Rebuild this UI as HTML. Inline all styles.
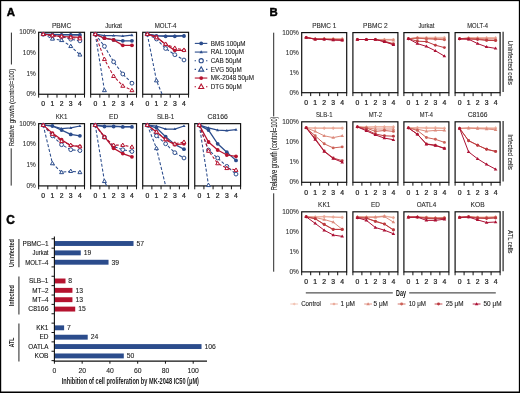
<!DOCTYPE html>
<html><head><meta charset="utf-8"><style>
html,body{margin:0;padding:0;background:#fff;}
svg{display:block;font-family:"Liberation Sans", sans-serif;will-change:transform;}
</style></head><body>
<svg width="520" height="393" viewBox="0 0 520 393">
<rect x="0" y="0" width="520" height="393" fill="#fff"/>
<rect x="0" y="0" width="520" height="1.15" fill="#000" stroke="none" stroke-width="1"/>
<rect x="0" y="0" width="1.2" height="393" fill="#000" stroke="none" stroke-width="1"/>
<rect x="518.85" y="0" width="1.15" height="393" fill="#000" stroke="none" stroke-width="1"/>
<rect x="0" y="391.5" width="520" height="1.5" fill="#000" stroke="none" stroke-width="1"/>
<text x="6.8" y="16.3" font-size="11.4" text-anchor="start" fill="#000" font-weight="bold" stroke="#000" stroke-width="0.45">A</text>
<text x="269.4" y="16.4" font-size="11.4" text-anchor="start" fill="#000" font-weight="bold" stroke="#000" stroke-width="0.45">B</text>
<text x="6.3" y="224.2" font-size="11.9" text-anchor="start" fill="#000" font-weight="bold" stroke="#000" stroke-width="0.45">C</text>
<rect x="38.65" y="32.3" width="45.85" height="61.95" fill="none" stroke="#111" stroke-width="1.2"/>
<line x1="38.65" y1="94.25" x2="38.65" y2="97.65" stroke="#111" stroke-width="1"/>
<line x1="47.82" y1="94.25" x2="47.82" y2="97.65" stroke="#111" stroke-width="1"/>
<line x1="56.99" y1="94.25" x2="56.99" y2="97.65" stroke="#111" stroke-width="1"/>
<line x1="66.16" y1="94.25" x2="66.16" y2="97.65" stroke="#111" stroke-width="1"/>
<line x1="75.33" y1="94.25" x2="75.33" y2="97.65" stroke="#111" stroke-width="1"/>
<line x1="84.5" y1="94.25" x2="84.5" y2="97.65" stroke="#111" stroke-width="1"/>
<text x="43.23" y="105.95" font-size="6.8" text-anchor="middle" fill="#222" stroke="#222" stroke-width="0.22">0</text>
<text x="52.41" y="105.95" font-size="6.8" text-anchor="middle" fill="#222" stroke="#222" stroke-width="0.22">1</text>
<text x="61.58" y="105.95" font-size="6.8" text-anchor="middle" fill="#222" stroke="#222" stroke-width="0.22">2</text>
<text x="70.75" y="105.95" font-size="6.8" text-anchor="middle" fill="#222" stroke="#222" stroke-width="0.22">3</text>
<text x="79.91" y="105.95" font-size="6.8" text-anchor="middle" fill="#222" stroke="#222" stroke-width="0.22">4</text>
<text x="61.58" y="27.7" font-size="6.9" text-anchor="middle" fill="#2a2a2a" textLength="19.3" lengthAdjust="spacingAndGlyphs" stroke="#2a2a2a" stroke-width="0.1">PBMC</text>
<text x="35.8" y="34.2" font-size="6.5" text-anchor="end" fill="#333" stroke="#333" stroke-width="0.1">100%</text>
<text x="35.8" y="54.9" font-size="6.5" text-anchor="end" fill="#333" stroke="#333" stroke-width="0.1">10%</text>
<text x="35.8" y="75.5" font-size="6.5" text-anchor="end" fill="#333" stroke="#333" stroke-width="0.1">1%</text>
<text x="35.8" y="96.15" font-size="6.5" text-anchor="end" fill="#333" stroke="#333" stroke-width="0.1">0%</text>
<polyline points="43.23,34.2 52.41,34.6 61.58,34.8 70.75,35 79.91,35" fill="none" stroke="#2b4c8c" stroke-width="1.25"/>
<circle cx="43.23" cy="34.2" r="1.9" fill="#2b4c8c"/>
<circle cx="52.41" cy="34.6" r="1.9" fill="#2b4c8c"/>
<circle cx="61.58" cy="34.8" r="1.9" fill="#2b4c8c"/>
<circle cx="70.75" cy="35" r="1.9" fill="#2b4c8c"/>
<circle cx="79.91" cy="35" r="1.9" fill="#2b4c8c"/>
<polyline points="43.23,34.2 52.41,34.4 61.58,34.5 70.75,34.5 79.91,34.5" fill="none" stroke="#2b4c8c" stroke-width="1.25"/>
<polygon points="43.23,32.58 41.66,35.28 44.81,35.28" fill="#2b4c8c"/>
<polygon points="52.41,32.78 50.83,35.48 53.98,35.48" fill="#2b4c8c"/>
<polygon points="61.58,32.88 60,35.58 63.15,35.58" fill="#2b4c8c"/>
<polygon points="70.75,32.88 69.17,35.58 72.32,35.58" fill="#2b4c8c"/>
<polygon points="79.91,32.88 78.34,35.58 81.49,35.58" fill="#2b4c8c"/>
<polyline points="43.23,34.2 52.41,35.6 61.58,36.6 70.75,39.2 79.91,40.9" fill="none" stroke="#2b4c8c" stroke-width="1.05" stroke-dasharray="3,1.9"/>
<circle cx="43.23" cy="34.2" r="1.9" fill="#fff" stroke="#2b4c8c" stroke-width="1"/>
<circle cx="52.41" cy="35.6" r="1.9" fill="#fff" stroke="#2b4c8c" stroke-width="1"/>
<circle cx="61.58" cy="36.6" r="1.9" fill="#fff" stroke="#2b4c8c" stroke-width="1"/>
<circle cx="70.75" cy="39.2" r="1.9" fill="#fff" stroke="#2b4c8c" stroke-width="1"/>
<circle cx="79.91" cy="40.9" r="1.9" fill="#fff" stroke="#2b4c8c" stroke-width="1"/>
<polyline points="43.23,34.2 52.41,38.8 61.58,40.2 70.75,46.2 79.91,54.7" fill="none" stroke="#2b4c8c" stroke-width="1.05" stroke-dasharray="3,1.9"/>
<polygon points="43.23,32.15 41.26,35.57 45.21,35.57" fill="#fff" stroke="#2b4c8c" stroke-width="1"/>
<polygon points="52.41,36.75 50.43,40.17 54.38,40.17" fill="#fff" stroke="#2b4c8c" stroke-width="1"/>
<polygon points="61.58,38.15 59.6,41.57 63.55,41.57" fill="#fff" stroke="#2b4c8c" stroke-width="1"/>
<polygon points="70.75,44.15 68.77,47.57 72.73,47.57" fill="#fff" stroke="#2b4c8c" stroke-width="1"/>
<polygon points="79.91,52.65 77.93,56.07 81.89,56.07" fill="#fff" stroke="#2b4c8c" stroke-width="1"/>
<polyline points="43.23,34.2 52.41,35.5 61.58,36.5 70.75,36.9 79.91,37.4" fill="none" stroke="#b5132f" stroke-width="1.25"/>
<circle cx="43.23" cy="34.2" r="1.9" fill="#b5132f"/>
<circle cx="52.41" cy="35.5" r="1.9" fill="#b5132f"/>
<circle cx="61.58" cy="36.5" r="1.9" fill="#b5132f"/>
<circle cx="70.75" cy="36.9" r="1.9" fill="#b5132f"/>
<circle cx="79.91" cy="37.4" r="1.9" fill="#b5132f"/>
<polyline points="43.23,34.2 52.41,35.5 61.58,36.5 70.75,37.5 79.91,38.5" fill="none" stroke="#b5132f" stroke-width="1.05" stroke-dasharray="3,1.9"/>
<polygon points="43.23,32.15 41.26,35.57 45.21,35.57" fill="#fff" stroke="#b5132f" stroke-width="1"/>
<polygon points="52.41,33.45 50.43,36.87 54.38,36.87" fill="#fff" stroke="#b5132f" stroke-width="1"/>
<polygon points="61.58,34.45 59.6,37.87 63.55,37.87" fill="#fff" stroke="#b5132f" stroke-width="1"/>
<polygon points="70.75,35.45 68.77,38.87 72.73,38.87" fill="#fff" stroke="#b5132f" stroke-width="1"/>
<polygon points="79.91,36.45 77.93,39.87 81.89,39.87" fill="#fff" stroke="#b5132f" stroke-width="1"/>
<rect x="90.68" y="32.3" width="45.85" height="61.95" fill="none" stroke="#111" stroke-width="1.2"/>
<line x1="90.68" y1="94.25" x2="90.68" y2="97.65" stroke="#111" stroke-width="1"/>
<line x1="99.85" y1="94.25" x2="99.85" y2="97.65" stroke="#111" stroke-width="1"/>
<line x1="109.02" y1="94.25" x2="109.02" y2="97.65" stroke="#111" stroke-width="1"/>
<line x1="118.19" y1="94.25" x2="118.19" y2="97.65" stroke="#111" stroke-width="1"/>
<line x1="127.36" y1="94.25" x2="127.36" y2="97.65" stroke="#111" stroke-width="1"/>
<line x1="136.53" y1="94.25" x2="136.53" y2="97.65" stroke="#111" stroke-width="1"/>
<text x="95.27" y="105.95" font-size="6.8" text-anchor="middle" fill="#222" stroke="#222" stroke-width="0.22">0</text>
<text x="104.44" y="105.95" font-size="6.8" text-anchor="middle" fill="#222" stroke="#222" stroke-width="0.22">1</text>
<text x="113.61" y="105.95" font-size="6.8" text-anchor="middle" fill="#222" stroke="#222" stroke-width="0.22">2</text>
<text x="122.78" y="105.95" font-size="6.8" text-anchor="middle" fill="#222" stroke="#222" stroke-width="0.22">3</text>
<text x="131.94" y="105.95" font-size="6.8" text-anchor="middle" fill="#222" stroke="#222" stroke-width="0.22">4</text>
<text x="113.61" y="27.7" font-size="6.9" text-anchor="middle" fill="#2a2a2a" textLength="16.9" lengthAdjust="spacingAndGlyphs" stroke="#2a2a2a" stroke-width="0.1">Jurkat</text>
<polyline points="95.27,34.2 104.44,38.2 113.61,39.9 122.78,40.8 131.94,40.8" fill="none" stroke="#2b4c8c" stroke-width="1.25"/>
<circle cx="95.27" cy="34.2" r="1.9" fill="#2b4c8c"/>
<circle cx="104.44" cy="38.2" r="1.9" fill="#2b4c8c"/>
<circle cx="113.61" cy="39.9" r="1.9" fill="#2b4c8c"/>
<circle cx="122.78" cy="40.8" r="1.9" fill="#2b4c8c"/>
<circle cx="131.94" cy="40.8" r="1.9" fill="#2b4c8c"/>
<polyline points="95.27,34.2 104.44,35.5 113.61,35.5 122.78,36 131.94,35.1" fill="none" stroke="#2b4c8c" stroke-width="1.25"/>
<polygon points="95.27,32.58 93.69,35.28 96.84,35.28" fill="#2b4c8c"/>
<polygon points="104.44,33.88 102.86,36.58 106.01,36.58" fill="#2b4c8c"/>
<polygon points="113.61,33.88 112.03,36.58 115.18,36.58" fill="#2b4c8c"/>
<polygon points="122.78,34.38 121.2,37.08 124.35,37.08" fill="#2b4c8c"/>
<polygon points="131.94,33.48 130.37,36.18 133.52,36.18" fill="#2b4c8c"/>
<polyline points="95.27,34.2 104.44,46.3 113.61,61.8 122.78,74 131.94,83.2" fill="none" stroke="#2b4c8c" stroke-width="1.05" stroke-dasharray="3,1.9"/>
<circle cx="95.27" cy="34.2" r="1.9" fill="#fff" stroke="#2b4c8c" stroke-width="1"/>
<circle cx="104.44" cy="46.3" r="1.9" fill="#fff" stroke="#2b4c8c" stroke-width="1"/>
<circle cx="113.61" cy="61.8" r="1.9" fill="#fff" stroke="#2b4c8c" stroke-width="1"/>
<circle cx="122.78" cy="74" r="1.9" fill="#fff" stroke="#2b4c8c" stroke-width="1"/>
<circle cx="131.94" cy="83.2" r="1.9" fill="#fff" stroke="#2b4c8c" stroke-width="1"/>
<polyline points="95.27,34.2 104.44,90.3" fill="none" stroke="#2b4c8c" stroke-width="1.05" stroke-dasharray="3,1.9"/>
<polygon points="95.27,32.15 93.28,35.57 97.25,35.57" fill="#fff" stroke="#2b4c8c" stroke-width="1"/>
<polygon points="104.44,88.25 102.45,91.67 106.42,91.67" fill="#fff" stroke="#2b4c8c" stroke-width="1"/>
<polyline points="95.27,34.2 104.44,38.2 113.61,39.9 122.78,45.3 131.94,45.3" fill="none" stroke="#b5132f" stroke-width="1.25"/>
<circle cx="95.27" cy="34.2" r="1.9" fill="#b5132f"/>
<circle cx="104.44" cy="38.2" r="1.9" fill="#b5132f"/>
<circle cx="113.61" cy="39.9" r="1.9" fill="#b5132f"/>
<circle cx="122.78" cy="45.3" r="1.9" fill="#b5132f"/>
<circle cx="131.94" cy="45.3" r="1.9" fill="#b5132f"/>
<polyline points="95.27,34.2 104.44,59.2 113.61,76.1 122.78,85.9 131.94,90.3" fill="none" stroke="#b5132f" stroke-width="1.05" stroke-dasharray="3,1.9"/>
<polygon points="95.27,32.15 93.28,35.57 97.25,35.57" fill="#fff" stroke="#b5132f" stroke-width="1"/>
<polygon points="104.44,57.15 102.45,60.57 106.42,60.57" fill="#fff" stroke="#b5132f" stroke-width="1"/>
<polygon points="113.61,74.05 111.62,77.47 115.59,77.47" fill="#fff" stroke="#b5132f" stroke-width="1"/>
<polygon points="122.78,83.85 120.8,87.27 124.76,87.27" fill="#fff" stroke="#b5132f" stroke-width="1"/>
<polygon points="131.94,88.25 129.97,91.67 133.92,91.67" fill="#fff" stroke="#b5132f" stroke-width="1"/>
<rect x="142.71" y="32.3" width="45.85" height="61.95" fill="none" stroke="#111" stroke-width="1.2"/>
<line x1="142.71" y1="94.25" x2="142.71" y2="97.65" stroke="#111" stroke-width="1"/>
<line x1="151.88" y1="94.25" x2="151.88" y2="97.65" stroke="#111" stroke-width="1"/>
<line x1="161.05" y1="94.25" x2="161.05" y2="97.65" stroke="#111" stroke-width="1"/>
<line x1="170.22" y1="94.25" x2="170.22" y2="97.65" stroke="#111" stroke-width="1"/>
<line x1="179.39" y1="94.25" x2="179.39" y2="97.65" stroke="#111" stroke-width="1"/>
<line x1="188.56" y1="94.25" x2="188.56" y2="97.65" stroke="#111" stroke-width="1"/>
<text x="147.3" y="105.95" font-size="6.8" text-anchor="middle" fill="#222" stroke="#222" stroke-width="0.22">0</text>
<text x="156.47" y="105.95" font-size="6.8" text-anchor="middle" fill="#222" stroke="#222" stroke-width="0.22">1</text>
<text x="165.64" y="105.95" font-size="6.8" text-anchor="middle" fill="#222" stroke="#222" stroke-width="0.22">2</text>
<text x="174.81" y="105.95" font-size="6.8" text-anchor="middle" fill="#222" stroke="#222" stroke-width="0.22">3</text>
<text x="183.98" y="105.95" font-size="6.8" text-anchor="middle" fill="#222" stroke="#222" stroke-width="0.22">4</text>
<text x="165.64" y="27.7" font-size="6.9" text-anchor="middle" fill="#2a2a2a" textLength="21.8" lengthAdjust="spacingAndGlyphs" stroke="#2a2a2a" stroke-width="0.1">MOLT-4</text>
<polyline points="147.3,34.2 156.47,36 165.64,36.3 174.81,36.3 183.98,36" fill="none" stroke="#2b4c8c" stroke-width="1.25"/>
<circle cx="147.3" cy="34.2" r="1.9" fill="#2b4c8c"/>
<circle cx="156.47" cy="36" r="1.9" fill="#2b4c8c"/>
<circle cx="165.64" cy="36.3" r="1.9" fill="#2b4c8c"/>
<circle cx="174.81" cy="36.3" r="1.9" fill="#2b4c8c"/>
<circle cx="183.98" cy="36" r="1.9" fill="#2b4c8c"/>
<polyline points="147.3,34.2 156.47,35.5 165.64,35.8 174.81,35.8 183.98,35.5" fill="none" stroke="#2b4c8c" stroke-width="1.25"/>
<polygon points="147.3,32.58 145.72,35.28 148.87,35.28" fill="#2b4c8c"/>
<polygon points="156.47,33.88 154.89,36.58 158.04,36.58" fill="#2b4c8c"/>
<polygon points="165.64,34.18 164.06,36.88 167.21,36.88" fill="#2b4c8c"/>
<polygon points="174.81,34.18 173.23,36.88 176.38,36.88" fill="#2b4c8c"/>
<polygon points="183.98,33.88 182.4,36.58 185.55,36.58" fill="#2b4c8c"/>
<polyline points="147.3,34.2 156.47,39 165.64,48.5 174.81,54.7 183.98,60" fill="none" stroke="#2b4c8c" stroke-width="1.05" stroke-dasharray="3,1.9"/>
<circle cx="147.3" cy="34.2" r="1.9" fill="#fff" stroke="#2b4c8c" stroke-width="1"/>
<circle cx="156.47" cy="39" r="1.9" fill="#fff" stroke="#2b4c8c" stroke-width="1"/>
<circle cx="165.64" cy="48.5" r="1.9" fill="#fff" stroke="#2b4c8c" stroke-width="1"/>
<circle cx="174.81" cy="54.7" r="1.9" fill="#fff" stroke="#2b4c8c" stroke-width="1"/>
<circle cx="183.98" cy="60" r="1.9" fill="#fff" stroke="#2b4c8c" stroke-width="1"/>
<polyline points="147.3,34.2 156.47,80.5 162.15,94.4" fill="none" stroke="#2b4c8c" stroke-width="1.05" stroke-dasharray="3,1.9"/>
<polygon points="147.3,32.15 145.32,35.57 149.28,35.57" fill="#fff" stroke="#2b4c8c" stroke-width="1"/>
<polygon points="156.47,78.45 154.49,81.87 158.44,81.87" fill="#fff" stroke="#2b4c8c" stroke-width="1"/>
<polyline points="147.3,34.2 156.47,36.9 165.64,44.4 174.81,50.3 183.98,50.3" fill="none" stroke="#b5132f" stroke-width="1.25"/>
<circle cx="147.3" cy="34.2" r="1.9" fill="#b5132f"/>
<circle cx="156.47" cy="36.9" r="1.9" fill="#b5132f"/>
<circle cx="165.64" cy="44.4" r="1.9" fill="#b5132f"/>
<circle cx="174.81" cy="50.3" r="1.9" fill="#b5132f"/>
<circle cx="183.98" cy="50.3" r="1.9" fill="#b5132f"/>
<polyline points="147.3,34.2 156.47,37.5 165.64,44 174.81,48 183.98,50" fill="none" stroke="#b5132f" stroke-width="1.05" stroke-dasharray="3,1.9"/>
<polygon points="147.3,32.15 145.32,35.57 149.28,35.57" fill="#fff" stroke="#b5132f" stroke-width="1"/>
<polygon points="156.47,35.45 154.49,38.87 158.44,38.87" fill="#fff" stroke="#b5132f" stroke-width="1"/>
<polygon points="165.64,41.95 163.66,45.37 167.62,45.37" fill="#fff" stroke="#b5132f" stroke-width="1"/>
<polygon points="174.81,45.95 172.83,49.37 176.78,49.37" fill="#fff" stroke="#b5132f" stroke-width="1"/>
<polygon points="183.98,47.95 182,51.37 185.96,51.37" fill="#fff" stroke="#b5132f" stroke-width="1"/>
<rect x="38.65" y="123.65" width="45.85" height="62.25" fill="none" stroke="#111" stroke-width="1.2"/>
<line x1="38.65" y1="185.9" x2="38.65" y2="189.3" stroke="#111" stroke-width="1"/>
<line x1="47.82" y1="185.9" x2="47.82" y2="189.3" stroke="#111" stroke-width="1"/>
<line x1="56.99" y1="185.9" x2="56.99" y2="189.3" stroke="#111" stroke-width="1"/>
<line x1="66.16" y1="185.9" x2="66.16" y2="189.3" stroke="#111" stroke-width="1"/>
<line x1="75.33" y1="185.9" x2="75.33" y2="189.3" stroke="#111" stroke-width="1"/>
<line x1="84.5" y1="185.9" x2="84.5" y2="189.3" stroke="#111" stroke-width="1"/>
<text x="43.23" y="197.6" font-size="6.8" text-anchor="middle" fill="#222" stroke="#222" stroke-width="0.22">0</text>
<text x="52.41" y="197.6" font-size="6.8" text-anchor="middle" fill="#222" stroke="#222" stroke-width="0.22">1</text>
<text x="61.58" y="197.6" font-size="6.8" text-anchor="middle" fill="#222" stroke="#222" stroke-width="0.22">2</text>
<text x="70.75" y="197.6" font-size="6.8" text-anchor="middle" fill="#222" stroke="#222" stroke-width="0.22">3</text>
<text x="79.91" y="197.6" font-size="6.8" text-anchor="middle" fill="#222" stroke="#222" stroke-width="0.22">4</text>
<text x="61.58" y="119.05" font-size="6.9" text-anchor="middle" fill="#2a2a2a" textLength="11.7" lengthAdjust="spacingAndGlyphs" stroke="#2a2a2a" stroke-width="0.1">KK1</text>
<text x="35.8" y="125.55" font-size="6.5" text-anchor="end" fill="#333" stroke="#333" stroke-width="0.1">100%</text>
<text x="35.8" y="146.25" font-size="6.5" text-anchor="end" fill="#333" stroke="#333" stroke-width="0.1">10%</text>
<text x="35.8" y="166.85" font-size="6.5" text-anchor="end" fill="#333" stroke="#333" stroke-width="0.1">1%</text>
<text x="35.8" y="187.8" font-size="6.5" text-anchor="end" fill="#333" stroke="#333" stroke-width="0.1">0%</text>
<polyline points="43.23,125.1 52.41,126 61.58,130.1 70.75,134.4 79.91,135.8" fill="none" stroke="#2b4c8c" stroke-width="1.25"/>
<circle cx="43.23" cy="125.1" r="1.9" fill="#2b4c8c"/>
<circle cx="52.41" cy="126" r="1.9" fill="#2b4c8c"/>
<circle cx="61.58" cy="130.1" r="1.9" fill="#2b4c8c"/>
<circle cx="70.75" cy="134.4" r="1.9" fill="#2b4c8c"/>
<circle cx="79.91" cy="135.8" r="1.9" fill="#2b4c8c"/>
<polyline points="43.23,125.1 52.41,126 61.58,128.7 70.75,127.8 79.91,126" fill="none" stroke="#2b4c8c" stroke-width="1.25"/>
<polygon points="43.23,123.48 41.66,126.18 44.81,126.18" fill="#2b4c8c"/>
<polygon points="52.41,124.38 50.83,127.08 53.98,127.08" fill="#2b4c8c"/>
<polygon points="61.58,127.08 60,129.78 63.15,129.78" fill="#2b4c8c"/>
<polygon points="70.75,126.18 69.17,128.88 72.32,128.88" fill="#2b4c8c"/>
<polygon points="79.91,124.38 78.34,127.08 81.49,127.08" fill="#2b4c8c"/>
<polyline points="43.23,125.1 52.41,135.8 61.58,144.7 70.75,149.7 79.91,150.6" fill="none" stroke="#2b4c8c" stroke-width="1.05" stroke-dasharray="3,1.9"/>
<circle cx="43.23" cy="125.1" r="1.9" fill="#fff" stroke="#2b4c8c" stroke-width="1"/>
<circle cx="52.41" cy="135.8" r="1.9" fill="#fff" stroke="#2b4c8c" stroke-width="1"/>
<circle cx="61.58" cy="144.7" r="1.9" fill="#fff" stroke="#2b4c8c" stroke-width="1"/>
<circle cx="70.75" cy="149.7" r="1.9" fill="#fff" stroke="#2b4c8c" stroke-width="1"/>
<circle cx="79.91" cy="150.6" r="1.9" fill="#fff" stroke="#2b4c8c" stroke-width="1"/>
<polyline points="43.23,125.1 52.41,163.4 61.58,172.3 70.75,171.1 79.91,172.3" fill="none" stroke="#2b4c8c" stroke-width="1.05" stroke-dasharray="3,1.9"/>
<polygon points="43.23,123.05 41.26,126.47 45.21,126.47" fill="#fff" stroke="#2b4c8c" stroke-width="1"/>
<polygon points="52.41,161.35 50.43,164.77 54.38,164.77" fill="#fff" stroke="#2b4c8c" stroke-width="1"/>
<polygon points="61.58,170.25 59.6,173.67 63.55,173.67" fill="#fff" stroke="#2b4c8c" stroke-width="1"/>
<polygon points="70.75,169.05 68.77,172.47 72.73,172.47" fill="#fff" stroke="#2b4c8c" stroke-width="1"/>
<polygon points="79.91,170.25 77.93,173.67 81.89,173.67" fill="#fff" stroke="#2b4c8c" stroke-width="1"/>
<polyline points="43.23,125.1 52.41,133.1 61.58,139.7 70.75,145.6 79.91,146.5" fill="none" stroke="#b5132f" stroke-width="1.25"/>
<circle cx="43.23" cy="125.1" r="1.9" fill="#b5132f"/>
<circle cx="52.41" cy="133.1" r="1.9" fill="#b5132f"/>
<circle cx="61.58" cy="139.7" r="1.9" fill="#b5132f"/>
<circle cx="70.75" cy="145.6" r="1.9" fill="#b5132f"/>
<circle cx="79.91" cy="146.5" r="1.9" fill="#b5132f"/>
<polyline points="43.23,125.1 52.41,134 61.58,141.2 70.75,145.1 79.91,146.5" fill="none" stroke="#b5132f" stroke-width="1.05" stroke-dasharray="3,1.9"/>
<polygon points="43.23,123.05 41.26,126.47 45.21,126.47" fill="#fff" stroke="#b5132f" stroke-width="1"/>
<polygon points="52.41,131.95 50.43,135.37 54.38,135.37" fill="#fff" stroke="#b5132f" stroke-width="1"/>
<polygon points="61.58,139.15 59.6,142.57 63.55,142.57" fill="#fff" stroke="#b5132f" stroke-width="1"/>
<polygon points="70.75,143.05 68.77,146.47 72.73,146.47" fill="#fff" stroke="#b5132f" stroke-width="1"/>
<polygon points="79.91,144.45 77.93,147.87 81.89,147.87" fill="#fff" stroke="#b5132f" stroke-width="1"/>
<rect x="90.68" y="123.65" width="45.85" height="62.25" fill="none" stroke="#111" stroke-width="1.2"/>
<line x1="90.68" y1="185.9" x2="90.68" y2="189.3" stroke="#111" stroke-width="1"/>
<line x1="99.85" y1="185.9" x2="99.85" y2="189.3" stroke="#111" stroke-width="1"/>
<line x1="109.02" y1="185.9" x2="109.02" y2="189.3" stroke="#111" stroke-width="1"/>
<line x1="118.19" y1="185.9" x2="118.19" y2="189.3" stroke="#111" stroke-width="1"/>
<line x1="127.36" y1="185.9" x2="127.36" y2="189.3" stroke="#111" stroke-width="1"/>
<line x1="136.53" y1="185.9" x2="136.53" y2="189.3" stroke="#111" stroke-width="1"/>
<text x="95.27" y="197.6" font-size="6.8" text-anchor="middle" fill="#222" stroke="#222" stroke-width="0.22">0</text>
<text x="104.44" y="197.6" font-size="6.8" text-anchor="middle" fill="#222" stroke="#222" stroke-width="0.22">1</text>
<text x="113.61" y="197.6" font-size="6.8" text-anchor="middle" fill="#222" stroke="#222" stroke-width="0.22">2</text>
<text x="122.78" y="197.6" font-size="6.8" text-anchor="middle" fill="#222" stroke="#222" stroke-width="0.22">3</text>
<text x="131.94" y="197.6" font-size="6.8" text-anchor="middle" fill="#222" stroke="#222" stroke-width="0.22">4</text>
<text x="113.61" y="119.05" font-size="6.9" text-anchor="middle" fill="#2a2a2a" textLength="9.3" lengthAdjust="spacingAndGlyphs" stroke="#2a2a2a" stroke-width="0.1">ED</text>
<polyline points="95.27,125.1 104.44,126.5 113.61,126.5 122.78,126.9 131.94,126.9" fill="none" stroke="#2b4c8c" stroke-width="1.25"/>
<circle cx="95.27" cy="125.1" r="1.9" fill="#2b4c8c"/>
<circle cx="104.44" cy="126.5" r="1.9" fill="#2b4c8c"/>
<circle cx="113.61" cy="126.5" r="1.9" fill="#2b4c8c"/>
<circle cx="122.78" cy="126.9" r="1.9" fill="#2b4c8c"/>
<circle cx="131.94" cy="126.9" r="1.9" fill="#2b4c8c"/>
<polyline points="95.27,125.1 104.44,126.2 113.61,126.2 122.78,126.5 131.94,126.5" fill="none" stroke="#2b4c8c" stroke-width="1.25"/>
<polygon points="95.27,123.48 93.69,126.18 96.84,126.18" fill="#2b4c8c"/>
<polygon points="104.44,124.58 102.86,127.28 106.01,127.28" fill="#2b4c8c"/>
<polygon points="113.61,124.58 112.03,127.28 115.18,127.28" fill="#2b4c8c"/>
<polygon points="122.78,124.88 121.2,127.58 124.35,127.58" fill="#2b4c8c"/>
<polygon points="131.94,124.88 130.37,127.58 133.52,127.58" fill="#2b4c8c"/>
<polyline points="95.27,125.1 104.44,137.2 113.61,146.5 122.78,149.7 131.94,151.5" fill="none" stroke="#2b4c8c" stroke-width="1.05" stroke-dasharray="3,1.9"/>
<circle cx="95.27" cy="125.1" r="1.9" fill="#fff" stroke="#2b4c8c" stroke-width="1"/>
<circle cx="104.44" cy="137.2" r="1.9" fill="#fff" stroke="#2b4c8c" stroke-width="1"/>
<circle cx="113.61" cy="146.5" r="1.9" fill="#fff" stroke="#2b4c8c" stroke-width="1"/>
<circle cx="122.78" cy="149.7" r="1.9" fill="#fff" stroke="#2b4c8c" stroke-width="1"/>
<circle cx="131.94" cy="151.5" r="1.9" fill="#fff" stroke="#2b4c8c" stroke-width="1"/>
<polyline points="95.27,125.1 104.44,181.2 106.73,185.9" fill="none" stroke="#2b4c8c" stroke-width="1.05" stroke-dasharray="3,1.9"/>
<polygon points="95.27,123.05 93.28,126.47 97.25,126.47" fill="#fff" stroke="#2b4c8c" stroke-width="1"/>
<polygon points="104.44,179.15 102.45,182.57 106.42,182.57" fill="#fff" stroke="#2b4c8c" stroke-width="1"/>
<polyline points="95.27,125.1 104.44,136.7 113.61,148.3 122.78,153.6 131.94,156.8" fill="none" stroke="#b5132f" stroke-width="1.25"/>
<circle cx="95.27" cy="125.1" r="1.9" fill="#b5132f"/>
<circle cx="104.44" cy="136.7" r="1.9" fill="#b5132f"/>
<circle cx="113.61" cy="148.3" r="1.9" fill="#b5132f"/>
<circle cx="122.78" cy="153.6" r="1.9" fill="#b5132f"/>
<circle cx="131.94" cy="156.8" r="1.9" fill="#b5132f"/>
<polyline points="95.27,125.1 104.44,137.2 113.61,145.1 122.78,145.1 131.94,146.9" fill="none" stroke="#b5132f" stroke-width="1.05" stroke-dasharray="3,1.9"/>
<polygon points="95.27,123.05 93.28,126.47 97.25,126.47" fill="#fff" stroke="#b5132f" stroke-width="1"/>
<polygon points="104.44,135.15 102.45,138.57 106.42,138.57" fill="#fff" stroke="#b5132f" stroke-width="1"/>
<polygon points="113.61,143.05 111.62,146.47 115.59,146.47" fill="#fff" stroke="#b5132f" stroke-width="1"/>
<polygon points="122.78,143.05 120.8,146.47 124.76,146.47" fill="#fff" stroke="#b5132f" stroke-width="1"/>
<polygon points="131.94,144.85 129.97,148.27 133.92,148.27" fill="#fff" stroke="#b5132f" stroke-width="1"/>
<rect x="142.71" y="123.65" width="45.85" height="62.25" fill="none" stroke="#111" stroke-width="1.2"/>
<line x1="142.71" y1="185.9" x2="142.71" y2="189.3" stroke="#111" stroke-width="1"/>
<line x1="151.88" y1="185.9" x2="151.88" y2="189.3" stroke="#111" stroke-width="1"/>
<line x1="161.05" y1="185.9" x2="161.05" y2="189.3" stroke="#111" stroke-width="1"/>
<line x1="170.22" y1="185.9" x2="170.22" y2="189.3" stroke="#111" stroke-width="1"/>
<line x1="179.39" y1="185.9" x2="179.39" y2="189.3" stroke="#111" stroke-width="1"/>
<line x1="188.56" y1="185.9" x2="188.56" y2="189.3" stroke="#111" stroke-width="1"/>
<text x="147.3" y="197.6" font-size="6.8" text-anchor="middle" fill="#222" stroke="#222" stroke-width="0.22">0</text>
<text x="156.47" y="197.6" font-size="6.8" text-anchor="middle" fill="#222" stroke="#222" stroke-width="0.22">1</text>
<text x="165.64" y="197.6" font-size="6.8" text-anchor="middle" fill="#222" stroke="#222" stroke-width="0.22">2</text>
<text x="174.81" y="197.6" font-size="6.8" text-anchor="middle" fill="#222" stroke="#222" stroke-width="0.22">3</text>
<text x="183.98" y="197.6" font-size="6.8" text-anchor="middle" fill="#222" stroke="#222" stroke-width="0.22">4</text>
<text x="165.64" y="119.05" font-size="6.9" text-anchor="middle" fill="#2a2a2a" textLength="17.4" lengthAdjust="spacingAndGlyphs" stroke="#2a2a2a" stroke-width="0.1">SLB-1</text>
<polyline points="147.3,125.1 156.47,127.8 165.64,136.7 174.81,144.4 183.98,149.2" fill="none" stroke="#2b4c8c" stroke-width="1.25"/>
<circle cx="147.3" cy="125.1" r="1.9" fill="#2b4c8c"/>
<circle cx="156.47" cy="127.8" r="1.9" fill="#2b4c8c"/>
<circle cx="165.64" cy="136.7" r="1.9" fill="#2b4c8c"/>
<circle cx="174.81" cy="144.4" r="1.9" fill="#2b4c8c"/>
<circle cx="183.98" cy="149.2" r="1.9" fill="#2b4c8c"/>
<polyline points="147.3,125.1 156.47,126 165.64,129 174.81,129 183.98,126" fill="none" stroke="#2b4c8c" stroke-width="1.25"/>
<polygon points="147.3,123.48 145.72,126.18 148.87,126.18" fill="#2b4c8c"/>
<polygon points="156.47,124.38 154.89,127.08 158.04,127.08" fill="#2b4c8c"/>
<polygon points="165.64,127.38 164.06,130.08 167.21,130.08" fill="#2b4c8c"/>
<polygon points="174.81,127.38 173.23,130.08 176.38,130.08" fill="#2b4c8c"/>
<polygon points="183.98,124.38 182.4,127.08 185.55,127.08" fill="#2b4c8c"/>
<polyline points="147.3,125.1 156.47,135.8 165.64,143.8 174.81,152.7 183.98,158" fill="none" stroke="#2b4c8c" stroke-width="1.05" stroke-dasharray="3,1.9"/>
<circle cx="147.3" cy="125.1" r="1.9" fill="#fff" stroke="#2b4c8c" stroke-width="1"/>
<circle cx="156.47" cy="135.8" r="1.9" fill="#fff" stroke="#2b4c8c" stroke-width="1"/>
<circle cx="165.64" cy="143.8" r="1.9" fill="#fff" stroke="#2b4c8c" stroke-width="1"/>
<circle cx="174.81" cy="152.7" r="1.9" fill="#fff" stroke="#2b4c8c" stroke-width="1"/>
<circle cx="183.98" cy="158" r="1.9" fill="#fff" stroke="#2b4c8c" stroke-width="1"/>
<polyline points="147.3,125.1 156.47,148.3 165.64,185.9" fill="none" stroke="#2b4c8c" stroke-width="1.05" stroke-dasharray="3,1.9"/>
<polygon points="147.3,123.05 145.32,126.47 149.28,126.47" fill="#fff" stroke="#2b4c8c" stroke-width="1"/>
<polygon points="156.47,146.25 154.49,149.67 158.44,149.67" fill="#fff" stroke="#2b4c8c" stroke-width="1"/>
<polyline points="147.3,125.1 156.47,131.9 165.64,139.7 174.81,144.7 183.98,143.8" fill="none" stroke="#b5132f" stroke-width="1.25"/>
<circle cx="147.3" cy="125.1" r="1.9" fill="#b5132f"/>
<circle cx="156.47" cy="131.9" r="1.9" fill="#b5132f"/>
<circle cx="165.64" cy="139.7" r="1.9" fill="#b5132f"/>
<circle cx="174.81" cy="144.7" r="1.9" fill="#b5132f"/>
<circle cx="183.98" cy="143.8" r="1.9" fill="#b5132f"/>
<polyline points="147.3,125.1 156.47,131.9 165.64,139.4 174.81,143.8 183.98,142" fill="none" stroke="#b5132f" stroke-width="1.05" stroke-dasharray="3,1.9"/>
<polygon points="147.3,123.05 145.32,126.47 149.28,126.47" fill="#fff" stroke="#b5132f" stroke-width="1"/>
<polygon points="156.47,129.85 154.49,133.27 158.44,133.27" fill="#fff" stroke="#b5132f" stroke-width="1"/>
<polygon points="165.64,137.35 163.66,140.77 167.62,140.77" fill="#fff" stroke="#b5132f" stroke-width="1"/>
<polygon points="174.81,141.75 172.83,145.17 176.78,145.17" fill="#fff" stroke="#b5132f" stroke-width="1"/>
<polygon points="183.98,139.95 182,143.37 185.96,143.37" fill="#fff" stroke="#b5132f" stroke-width="1"/>
<rect x="194.74" y="123.65" width="45.85" height="62.25" fill="none" stroke="#111" stroke-width="1.2"/>
<line x1="194.74" y1="185.9" x2="194.74" y2="189.3" stroke="#111" stroke-width="1"/>
<line x1="203.91" y1="185.9" x2="203.91" y2="189.3" stroke="#111" stroke-width="1"/>
<line x1="213.08" y1="185.9" x2="213.08" y2="189.3" stroke="#111" stroke-width="1"/>
<line x1="222.25" y1="185.9" x2="222.25" y2="189.3" stroke="#111" stroke-width="1"/>
<line x1="231.42" y1="185.9" x2="231.42" y2="189.3" stroke="#111" stroke-width="1"/>
<line x1="240.59" y1="185.9" x2="240.59" y2="189.3" stroke="#111" stroke-width="1"/>
<text x="199.33" y="197.6" font-size="6.8" text-anchor="middle" fill="#222" stroke="#222" stroke-width="0.22">0</text>
<text x="208.5" y="197.6" font-size="6.8" text-anchor="middle" fill="#222" stroke="#222" stroke-width="0.22">1</text>
<text x="217.67" y="197.6" font-size="6.8" text-anchor="middle" fill="#222" stroke="#222" stroke-width="0.22">2</text>
<text x="226.84" y="197.6" font-size="6.8" text-anchor="middle" fill="#222" stroke="#222" stroke-width="0.22">3</text>
<text x="236" y="197.6" font-size="6.8" text-anchor="middle" fill="#222" stroke="#222" stroke-width="0.22">4</text>
<text x="217.67" y="119.05" font-size="6.9" text-anchor="middle" fill="#2a2a2a" textLength="20.4" lengthAdjust="spacingAndGlyphs" stroke="#2a2a2a" stroke-width="0.1">C8166</text>
<polyline points="199.33,125.1 208.5,130.1 217.67,143.8 226.84,152.2 236,160.4" fill="none" stroke="#2b4c8c" stroke-width="1.25"/>
<circle cx="199.33" cy="125.1" r="1.9" fill="#2b4c8c"/>
<circle cx="208.5" cy="130.1" r="1.9" fill="#2b4c8c"/>
<circle cx="217.67" cy="143.8" r="1.9" fill="#2b4c8c"/>
<circle cx="226.84" cy="152.2" r="1.9" fill="#2b4c8c"/>
<circle cx="236" cy="160.4" r="1.9" fill="#2b4c8c"/>
<polyline points="199.33,125.1 208.5,127.8 217.67,130.1 226.84,130.5 236,129.6" fill="none" stroke="#2b4c8c" stroke-width="1.25"/>
<polygon points="199.33,123.48 197.75,126.18 200.9,126.18" fill="#2b4c8c"/>
<polygon points="208.5,126.18 206.92,128.88 210.07,128.88" fill="#2b4c8c"/>
<polygon points="217.67,128.48 216.09,131.18 219.24,131.18" fill="#2b4c8c"/>
<polygon points="226.84,128.88 225.26,131.58 228.41,131.58" fill="#2b4c8c"/>
<polygon points="236,127.98 234.43,130.68 237.58,130.68" fill="#2b4c8c"/>
<polyline points="199.33,125.1 208.5,150 217.67,158 226.84,166.4 236,174.1" fill="none" stroke="#2b4c8c" stroke-width="1.05" stroke-dasharray="3,1.9"/>
<circle cx="199.33" cy="125.1" r="1.9" fill="#fff" stroke="#2b4c8c" stroke-width="1"/>
<circle cx="208.5" cy="150" r="1.9" fill="#fff" stroke="#2b4c8c" stroke-width="1"/>
<circle cx="217.67" cy="158" r="1.9" fill="#fff" stroke="#2b4c8c" stroke-width="1"/>
<circle cx="226.84" cy="166.4" r="1.9" fill="#fff" stroke="#2b4c8c" stroke-width="1"/>
<circle cx="236" cy="174.1" r="1.9" fill="#fff" stroke="#2b4c8c" stroke-width="1"/>
<polyline points="199.33,125.1 208.5,185.2" fill="none" stroke="#2b4c8c" stroke-width="1.05" stroke-dasharray="3,1.9"/>
<polygon points="199.33,123.05 197.35,126.47 201.31,126.47" fill="#fff" stroke="#2b4c8c" stroke-width="1"/>
<polygon points="208.5,183.15 206.52,186.57 210.47,186.57" fill="#fff" stroke="#2b4c8c" stroke-width="1"/>
<polyline points="199.33,125.1 208.5,142 217.67,150 226.84,155 236,156.3" fill="none" stroke="#b5132f" stroke-width="1.25"/>
<circle cx="199.33" cy="125.1" r="1.9" fill="#b5132f"/>
<circle cx="208.5" cy="142" r="1.9" fill="#b5132f"/>
<circle cx="217.67" cy="150" r="1.9" fill="#b5132f"/>
<circle cx="226.84" cy="155" r="1.9" fill="#b5132f"/>
<circle cx="236" cy="156.3" r="1.9" fill="#b5132f"/>
<polyline points="199.33,125.1 208.5,150.9 217.67,163.4 226.84,168.2 236,170" fill="none" stroke="#b5132f" stroke-width="1.05" stroke-dasharray="3,1.9"/>
<polygon points="199.33,123.05 197.35,126.47 201.31,126.47" fill="#fff" stroke="#b5132f" stroke-width="1"/>
<polygon points="208.5,148.85 206.52,152.27 210.47,152.27" fill="#fff" stroke="#b5132f" stroke-width="1"/>
<polygon points="217.67,161.35 215.69,164.77 219.65,164.77" fill="#fff" stroke="#b5132f" stroke-width="1"/>
<polygon points="226.84,166.15 224.86,169.57 228.81,169.57" fill="#fff" stroke="#b5132f" stroke-width="1"/>
<polygon points="236,167.95 234.03,171.37 237.98,171.37" fill="#fff" stroke="#b5132f" stroke-width="1"/>
<line x1="11.4" y1="32.6" x2="11.4" y2="64.5" stroke="#111" stroke-width="0.9"/>
<line x1="11.2" y1="148.3" x2="11.2" y2="185.6" stroke="#111" stroke-width="0.9"/>
<text x="13.6" y="107.6" font-size="7.8" text-anchor="middle" fill="#222" textLength="77.5" lengthAdjust="spacingAndGlyphs" transform="rotate(-90 13.6 107.6)" stroke="#222" stroke-width="0.1">Relative growth (control=100)</text>
<line x1="194.8" y1="43.4" x2="207.3" y2="43.4" stroke="#2b4c8c" stroke-width="1.1"/>
<circle cx="201.2" cy="43.4" r="1.9" fill="#2b4c8c"/>
<text x="210.8" y="45.6" font-size="6.3" text-anchor="start" fill="#222" stroke="#222" stroke-width="0.1">BMS 100μM</text>
<line x1="194.8" y1="52.06" x2="207.3" y2="52.06" stroke="#2b4c8c" stroke-width="1.1"/>
<polygon points="201.2,50.33 199.52,53.21 202.88,53.21" fill="#2b4c8c"/>
<text x="210.8" y="54.26" font-size="6.3" text-anchor="start" fill="#222" stroke="#222" stroke-width="0.1">RAL 100μM</text>
<line x1="194.6" y1="60.72" x2="196" y2="60.72" stroke="#2b4c8c" stroke-width="1.1"/>
<line x1="206" y1="60.72" x2="207.4" y2="60.72" stroke="#2b4c8c" stroke-width="1.1"/>
<circle cx="201.2" cy="60.72" r="2.1" fill="#fff" stroke="#2b4c8c" stroke-width="1.1"/>
<text x="210.8" y="62.92" font-size="6.3" text-anchor="start" fill="#222" stroke="#222" stroke-width="0.1">CAB 50μM</text>
<line x1="194.6" y1="69.38" x2="196" y2="69.38" stroke="#2b4c8c" stroke-width="1.1"/>
<line x1="206" y1="69.38" x2="207.4" y2="69.38" stroke="#2b4c8c" stroke-width="1.1"/>
<polygon points="201.2,66.76 198.67,71.13 203.73,71.13" fill="#fff" stroke="#2b4c8c" stroke-width="1.1"/>
<text x="210.8" y="71.58" font-size="6.3" text-anchor="start" fill="#222" stroke="#222" stroke-width="0.1">EVG 50μM</text>
<line x1="194.8" y1="78.04" x2="207.3" y2="78.04" stroke="#b5132f" stroke-width="1.1"/>
<circle cx="201.2" cy="78.04" r="1.9" fill="#b5132f"/>
<text x="210.8" y="80.24" font-size="6.3" text-anchor="start" fill="#222" stroke="#222" stroke-width="0.1">MK-2048 50μM</text>
<line x1="194.6" y1="86.7" x2="196" y2="86.7" stroke="#b5132f" stroke-width="1.1"/>
<line x1="206" y1="86.7" x2="207.4" y2="86.7" stroke="#b5132f" stroke-width="1.1"/>
<polygon points="201.2,84.08 198.67,88.45 203.73,88.45" fill="#fff" stroke="#b5132f" stroke-width="1.1"/>
<text x="210.8" y="88.9" font-size="6.3" text-anchor="start" fill="#222" stroke="#222" stroke-width="0.1">DTG 50μM</text>
<rect x="301.7" y="32.6" width="45" height="60.1" fill="none" stroke="#111" stroke-width="1.2"/>
<line x1="301.7" y1="92.7" x2="301.7" y2="96.1" stroke="#111" stroke-width="1"/>
<line x1="310.7" y1="92.7" x2="310.7" y2="96.1" stroke="#111" stroke-width="1"/>
<line x1="319.7" y1="92.7" x2="319.7" y2="96.1" stroke="#111" stroke-width="1"/>
<line x1="328.7" y1="92.7" x2="328.7" y2="96.1" stroke="#111" stroke-width="1"/>
<line x1="337.7" y1="92.7" x2="337.7" y2="96.1" stroke="#111" stroke-width="1"/>
<line x1="346.7" y1="92.7" x2="346.7" y2="96.1" stroke="#111" stroke-width="1"/>
<text x="306.2" y="105" font-size="6.8" text-anchor="middle" fill="#222" stroke="#222" stroke-width="0.22">0</text>
<text x="315.2" y="105" font-size="6.8" text-anchor="middle" fill="#222" stroke="#222" stroke-width="0.22">1</text>
<text x="324.2" y="105" font-size="6.8" text-anchor="middle" fill="#222" stroke="#222" stroke-width="0.22">2</text>
<text x="333.2" y="105" font-size="6.8" text-anchor="middle" fill="#222" stroke="#222" stroke-width="0.22">3</text>
<text x="342.2" y="105" font-size="6.8" text-anchor="middle" fill="#222" stroke="#222" stroke-width="0.22">4</text>
<text x="324.2" y="28.1" font-size="6.9" text-anchor="middle" fill="#2a2a2a" textLength="24.1" lengthAdjust="spacingAndGlyphs" stroke="#2a2a2a" stroke-width="0.1">PBMC 1</text>
<text x="298.8" y="34.5" font-size="6.5" text-anchor="end" fill="#333" stroke="#333" stroke-width="0.1">100%</text>
<text x="298.8" y="54.5" font-size="6.5" text-anchor="end" fill="#333" stroke="#333" stroke-width="0.1">10%</text>
<text x="298.8" y="74.5" font-size="6.5" text-anchor="end" fill="#333" stroke="#333" stroke-width="0.1">1%</text>
<text x="298.8" y="94.6" font-size="6.5" text-anchor="end" fill="#333" stroke="#333" stroke-width="0.1">0%</text>
<polyline points="306.2,37.5 315.2,38.6 324.2,38.4 333.2,38.4 342.2,38.6" fill="none" stroke="#f2c4b4" stroke-width="1"/>
<polygon points="306.2,35.9 307.8,37.5 306.2,39.1 304.6,37.5" fill="#f2c4b4"/>
<polygon points="315.2,37 316.8,38.6 315.2,40.2 313.6,38.6" fill="#f2c4b4"/>
<polygon points="324.2,36.8 325.8,38.4 324.2,40 322.6,38.4" fill="#f2c4b4"/>
<polygon points="333.2,36.8 334.8,38.4 333.2,40 331.6,38.4" fill="#f2c4b4"/>
<polygon points="342.2,37 343.8,38.6 342.2,40.2 340.6,38.6" fill="#f2c4b4"/>
<polyline points="306.2,37.5 315.2,38.8 324.2,38.6 333.2,38.8 342.2,38.8" fill="none" stroke="#eaa898" stroke-width="1"/>
<polygon points="306.2,35.9 307.8,37.5 306.2,39.1 304.6,37.5" fill="#eaa898"/>
<polygon points="315.2,37.2 316.8,38.8 315.2,40.4 313.6,38.8" fill="#eaa898"/>
<polygon points="324.2,37 325.8,38.6 324.2,40.2 322.6,38.6" fill="#eaa898"/>
<polygon points="333.2,37.2 334.8,38.8 333.2,40.4 331.6,38.8" fill="#eaa898"/>
<polygon points="342.2,37.2 343.8,38.8 342.2,40.4 340.6,38.8" fill="#eaa898"/>
<polyline points="306.2,37.5 315.2,39 324.2,38.9 333.2,39.2 342.2,39.3" fill="none" stroke="#dc8a7c" stroke-width="1"/>
<polygon points="306.2,35.7 304.4,38.7 308,38.7" fill="#dc8a7c"/>
<polygon points="315.2,37.2 313.4,40.2 317,40.2" fill="#dc8a7c"/>
<polygon points="324.2,37.1 322.4,40.1 326,40.1" fill="#dc8a7c"/>
<polygon points="333.2,37.4 331.4,40.4 335,40.4" fill="#dc8a7c"/>
<polygon points="342.2,37.5 340.4,40.5 344,40.5" fill="#dc8a7c"/>
<polyline points="306.2,37.5 315.2,39.1 324.2,39.1 333.2,39.5 342.2,39.9" fill="none" stroke="#cc6258" stroke-width="1"/>
<circle cx="306.2" cy="37.5" r="1.45" fill="#cc6258"/>
<circle cx="315.2" cy="39.1" r="1.45" fill="#cc6258"/>
<circle cx="324.2" cy="39.1" r="1.45" fill="#cc6258"/>
<circle cx="333.2" cy="39.5" r="1.45" fill="#cc6258"/>
<circle cx="342.2" cy="39.9" r="1.45" fill="#cc6258"/>
<polyline points="306.2,37.5 315.2,39.2 324.2,39.3 333.2,39.8 342.2,40.1" fill="none" stroke="#bc3a40" stroke-width="1"/>
<circle cx="306.2" cy="37.5" r="1.45" fill="#bc3a40"/>
<circle cx="315.2" cy="39.2" r="1.45" fill="#bc3a40"/>
<circle cx="324.2" cy="39.3" r="1.45" fill="#bc3a40"/>
<circle cx="333.2" cy="39.8" r="1.45" fill="#bc3a40"/>
<circle cx="342.2" cy="40.1" r="1.45" fill="#bc3a40"/>
<polyline points="306.2,37.5 315.2,39.2 324.2,39.3 333.2,40.1 342.2,40.3" fill="none" stroke="#ac1034" stroke-width="1"/>
<polygon points="306.2,35.7 304.4,38.7 308,38.7" fill="#ac1034"/>
<polygon points="315.2,37.4 313.4,40.4 317,40.4" fill="#ac1034"/>
<polygon points="324.2,37.5 322.4,40.5 326,40.5" fill="#ac1034"/>
<polygon points="333.2,38.3 331.4,41.3 335,41.3" fill="#ac1034"/>
<polygon points="342.2,38.5 340.4,41.5 344,41.5" fill="#ac1034"/>
<rect x="352.9" y="32.6" width="45" height="60.1" fill="none" stroke="#111" stroke-width="1.2"/>
<line x1="352.9" y1="92.7" x2="352.9" y2="96.1" stroke="#111" stroke-width="1"/>
<line x1="361.9" y1="92.7" x2="361.9" y2="96.1" stroke="#111" stroke-width="1"/>
<line x1="370.9" y1="92.7" x2="370.9" y2="96.1" stroke="#111" stroke-width="1"/>
<line x1="379.9" y1="92.7" x2="379.9" y2="96.1" stroke="#111" stroke-width="1"/>
<line x1="388.9" y1="92.7" x2="388.9" y2="96.1" stroke="#111" stroke-width="1"/>
<line x1="397.9" y1="92.7" x2="397.9" y2="96.1" stroke="#111" stroke-width="1"/>
<text x="357.4" y="105" font-size="6.8" text-anchor="middle" fill="#222" stroke="#222" stroke-width="0.22">0</text>
<text x="366.4" y="105" font-size="6.8" text-anchor="middle" fill="#222" stroke="#222" stroke-width="0.22">1</text>
<text x="375.4" y="105" font-size="6.8" text-anchor="middle" fill="#222" stroke="#222" stroke-width="0.22">2</text>
<text x="384.4" y="105" font-size="6.8" text-anchor="middle" fill="#222" stroke="#222" stroke-width="0.22">3</text>
<text x="393.4" y="105" font-size="6.8" text-anchor="middle" fill="#222" stroke="#222" stroke-width="0.22">4</text>
<text x="375.4" y="28.1" font-size="6.9" text-anchor="middle" fill="#2a2a2a" textLength="24.6" lengthAdjust="spacingAndGlyphs" stroke="#2a2a2a" stroke-width="0.1">PBMC 2</text>
<polyline points="357.4,39.5 366.4,39.5 375.4,39.5 384.4,39.3 393.4,39.3" fill="none" stroke="#f2c4b4" stroke-width="1"/>
<polygon points="357.4,37.9 359,39.5 357.4,41.1 355.8,39.5" fill="#f2c4b4"/>
<polygon points="366.4,37.9 368,39.5 366.4,41.1 364.8,39.5" fill="#f2c4b4"/>
<polygon points="375.4,37.9 377,39.5 375.4,41.1 373.8,39.5" fill="#f2c4b4"/>
<polygon points="384.4,37.7 386,39.3 384.4,40.9 382.8,39.3" fill="#f2c4b4"/>
<polygon points="393.4,37.7 395,39.3 393.4,40.9 391.8,39.3" fill="#f2c4b4"/>
<polyline points="357.4,39.5 366.4,39.5 375.4,39.5 384.4,39.5 393.4,39.6" fill="none" stroke="#eaa898" stroke-width="1"/>
<polygon points="357.4,37.9 359,39.5 357.4,41.1 355.8,39.5" fill="#eaa898"/>
<polygon points="366.4,37.9 368,39.5 366.4,41.1 364.8,39.5" fill="#eaa898"/>
<polygon points="375.4,37.9 377,39.5 375.4,41.1 373.8,39.5" fill="#eaa898"/>
<polygon points="384.4,37.9 386,39.5 384.4,41.1 382.8,39.5" fill="#eaa898"/>
<polygon points="393.4,38 395,39.6 393.4,41.2 391.8,39.6" fill="#eaa898"/>
<polyline points="357.4,39.5 366.4,39.5 375.4,39.5 384.4,39.8 393.4,40.2" fill="none" stroke="#dc8a7c" stroke-width="1"/>
<polygon points="357.4,37.7 355.6,40.7 359.2,40.7" fill="#dc8a7c"/>
<polygon points="366.4,37.7 364.6,40.7 368.2,40.7" fill="#dc8a7c"/>
<polygon points="375.4,37.7 373.6,40.7 377.2,40.7" fill="#dc8a7c"/>
<polygon points="384.4,38 382.6,41 386.2,41" fill="#dc8a7c"/>
<polygon points="393.4,38.4 391.6,41.4 395.2,41.4" fill="#dc8a7c"/>
<polyline points="357.4,39.5 366.4,39.5 375.4,39.5 384.4,41.2 393.4,43.6" fill="none" stroke="#cc6258" stroke-width="1"/>
<circle cx="357.4" cy="39.5" r="1.45" fill="#cc6258"/>
<circle cx="366.4" cy="39.5" r="1.45" fill="#cc6258"/>
<circle cx="375.4" cy="39.5" r="1.45" fill="#cc6258"/>
<circle cx="384.4" cy="41.2" r="1.45" fill="#cc6258"/>
<circle cx="393.4" cy="43.6" r="1.45" fill="#cc6258"/>
<polyline points="357.4,39.5 366.4,39.5 375.4,39.5 384.4,41.5 393.4,44.2" fill="none" stroke="#bc3a40" stroke-width="1"/>
<circle cx="357.4" cy="39.5" r="1.45" fill="#bc3a40"/>
<circle cx="366.4" cy="39.5" r="1.45" fill="#bc3a40"/>
<circle cx="375.4" cy="39.5" r="1.45" fill="#bc3a40"/>
<circle cx="384.4" cy="41.5" r="1.45" fill="#bc3a40"/>
<circle cx="393.4" cy="44.2" r="1.45" fill="#bc3a40"/>
<polyline points="357.4,39.5 366.4,39.5 375.4,39.5 384.4,41.7 393.4,44.8" fill="none" stroke="#ac1034" stroke-width="1"/>
<polygon points="357.4,37.7 355.6,40.7 359.2,40.7" fill="#ac1034"/>
<polygon points="366.4,37.7 364.6,40.7 368.2,40.7" fill="#ac1034"/>
<polygon points="375.4,37.7 373.6,40.7 377.2,40.7" fill="#ac1034"/>
<polygon points="384.4,39.9 382.6,42.9 386.2,42.9" fill="#ac1034"/>
<polygon points="393.4,43 391.6,46 395.2,46" fill="#ac1034"/>
<rect x="403.9" y="32.6" width="45" height="60.1" fill="none" stroke="#111" stroke-width="1.2"/>
<line x1="403.9" y1="92.7" x2="403.9" y2="96.1" stroke="#111" stroke-width="1"/>
<line x1="412.9" y1="92.7" x2="412.9" y2="96.1" stroke="#111" stroke-width="1"/>
<line x1="421.9" y1="92.7" x2="421.9" y2="96.1" stroke="#111" stroke-width="1"/>
<line x1="430.9" y1="92.7" x2="430.9" y2="96.1" stroke="#111" stroke-width="1"/>
<line x1="439.9" y1="92.7" x2="439.9" y2="96.1" stroke="#111" stroke-width="1"/>
<line x1="448.9" y1="92.7" x2="448.9" y2="96.1" stroke="#111" stroke-width="1"/>
<text x="408.4" y="105" font-size="6.8" text-anchor="middle" fill="#222" stroke="#222" stroke-width="0.22">0</text>
<text x="417.4" y="105" font-size="6.8" text-anchor="middle" fill="#222" stroke="#222" stroke-width="0.22">1</text>
<text x="426.4" y="105" font-size="6.8" text-anchor="middle" fill="#222" stroke="#222" stroke-width="0.22">2</text>
<text x="435.4" y="105" font-size="6.8" text-anchor="middle" fill="#222" stroke="#222" stroke-width="0.22">3</text>
<text x="444.4" y="105" font-size="6.8" text-anchor="middle" fill="#222" stroke="#222" stroke-width="0.22">4</text>
<text x="426.4" y="28.1" font-size="6.9" text-anchor="middle" fill="#2a2a2a" textLength="16" lengthAdjust="spacingAndGlyphs" stroke="#2a2a2a" stroke-width="0.1">Jurkat</text>
<polyline points="408.4,38.7 417.4,37.3 426.4,37.3 435.4,37.3 444.4,37.3" fill="none" stroke="#f2c4b4" stroke-width="1"/>
<polygon points="408.4,37.1 410,38.7 408.4,40.3 406.8,38.7" fill="#f2c4b4"/>
<polygon points="417.4,35.7 419,37.3 417.4,38.9 415.8,37.3" fill="#f2c4b4"/>
<polygon points="426.4,35.7 428,37.3 426.4,38.9 424.8,37.3" fill="#f2c4b4"/>
<polygon points="435.4,35.7 437,37.3 435.4,38.9 433.8,37.3" fill="#f2c4b4"/>
<polygon points="444.4,35.7 446,37.3 444.4,38.9 442.8,37.3" fill="#f2c4b4"/>
<polyline points="408.4,38.7 417.4,37.8 426.4,38 435.4,38 444.4,38" fill="none" stroke="#eaa898" stroke-width="1"/>
<polygon points="408.4,37.1 410,38.7 408.4,40.3 406.8,38.7" fill="#eaa898"/>
<polygon points="417.4,36.2 419,37.8 417.4,39.4 415.8,37.8" fill="#eaa898"/>
<polygon points="426.4,36.4 428,38 426.4,39.6 424.8,38" fill="#eaa898"/>
<polygon points="435.4,36.4 437,38 435.4,39.6 433.8,38" fill="#eaa898"/>
<polygon points="444.4,36.4 446,38 444.4,39.6 442.8,38" fill="#eaa898"/>
<polyline points="408.4,38.7 417.4,38 426.4,38.5 435.4,38.7 444.4,39" fill="none" stroke="#dc8a7c" stroke-width="1"/>
<polygon points="408.4,36.9 406.6,39.9 410.2,39.9" fill="#dc8a7c"/>
<polygon points="417.4,36.2 415.6,39.2 419.2,39.2" fill="#dc8a7c"/>
<polygon points="426.4,36.7 424.6,39.7 428.2,39.7" fill="#dc8a7c"/>
<polygon points="435.4,36.9 433.6,39.9 437.2,39.9" fill="#dc8a7c"/>
<polygon points="444.4,37.2 442.6,40.2 446.2,40.2" fill="#dc8a7c"/>
<polyline points="408.4,38.7 417.4,38.2 426.4,38.8 435.4,39.2 444.4,39.8" fill="none" stroke="#cc6258" stroke-width="1"/>
<circle cx="408.4" cy="38.7" r="1.45" fill="#cc6258"/>
<circle cx="417.4" cy="38.2" r="1.45" fill="#cc6258"/>
<circle cx="426.4" cy="38.8" r="1.45" fill="#cc6258"/>
<circle cx="435.4" cy="39.2" r="1.45" fill="#cc6258"/>
<circle cx="444.4" cy="39.8" r="1.45" fill="#cc6258"/>
<polyline points="408.4,38.7 417.4,41.2 426.4,41.6 435.4,45.2 444.4,47.6" fill="none" stroke="#bc3a40" stroke-width="1"/>
<circle cx="408.4" cy="38.7" r="1.45" fill="#bc3a40"/>
<circle cx="417.4" cy="41.2" r="1.45" fill="#bc3a40"/>
<circle cx="426.4" cy="41.6" r="1.45" fill="#bc3a40"/>
<circle cx="435.4" cy="45.2" r="1.45" fill="#bc3a40"/>
<circle cx="444.4" cy="47.6" r="1.45" fill="#bc3a40"/>
<polyline points="408.4,38.7 417.4,43.6 426.4,46.4 435.4,50.8 444.4,56.1" fill="none" stroke="#ac1034" stroke-width="1"/>
<polygon points="408.4,36.9 406.6,39.9 410.2,39.9" fill="#ac1034"/>
<polygon points="417.4,41.8 415.6,44.8 419.2,44.8" fill="#ac1034"/>
<polygon points="426.4,44.6 424.6,47.6 428.2,47.6" fill="#ac1034"/>
<polygon points="435.4,49 433.6,52 437.2,52" fill="#ac1034"/>
<polygon points="444.4,54.3 442.6,57.3 446.2,57.3" fill="#ac1034"/>
<rect x="455.1" y="32.6" width="45" height="60.1" fill="none" stroke="#111" stroke-width="1.2"/>
<line x1="455.1" y1="92.7" x2="455.1" y2="96.1" stroke="#111" stroke-width="1"/>
<line x1="464.1" y1="92.7" x2="464.1" y2="96.1" stroke="#111" stroke-width="1"/>
<line x1="473.1" y1="92.7" x2="473.1" y2="96.1" stroke="#111" stroke-width="1"/>
<line x1="482.1" y1="92.7" x2="482.1" y2="96.1" stroke="#111" stroke-width="1"/>
<line x1="491.1" y1="92.7" x2="491.1" y2="96.1" stroke="#111" stroke-width="1"/>
<line x1="500.1" y1="92.7" x2="500.1" y2="96.1" stroke="#111" stroke-width="1"/>
<text x="459.6" y="105" font-size="6.8" text-anchor="middle" fill="#222" stroke="#222" stroke-width="0.22">0</text>
<text x="468.6" y="105" font-size="6.8" text-anchor="middle" fill="#222" stroke="#222" stroke-width="0.22">1</text>
<text x="477.6" y="105" font-size="6.8" text-anchor="middle" fill="#222" stroke="#222" stroke-width="0.22">2</text>
<text x="486.6" y="105" font-size="6.8" text-anchor="middle" fill="#222" stroke="#222" stroke-width="0.22">3</text>
<text x="495.6" y="105" font-size="6.8" text-anchor="middle" fill="#222" stroke="#222" stroke-width="0.22">4</text>
<text x="477.6" y="28.1" font-size="6.9" text-anchor="middle" fill="#2a2a2a" textLength="20.8" lengthAdjust="spacingAndGlyphs" stroke="#2a2a2a" stroke-width="0.1">MOLT-4</text>
<polyline points="459.6,38.8 468.6,37.6 477.6,37.5 486.6,37.5 495.6,37.5" fill="none" stroke="#f2c4b4" stroke-width="1"/>
<polygon points="459.6,37.2 461.2,38.8 459.6,40.4 458,38.8" fill="#f2c4b4"/>
<polygon points="468.6,36 470.2,37.6 468.6,39.2 467,37.6" fill="#f2c4b4"/>
<polygon points="477.6,35.9 479.2,37.5 477.6,39.1 476,37.5" fill="#f2c4b4"/>
<polygon points="486.6,35.9 488.2,37.5 486.6,39.1 485,37.5" fill="#f2c4b4"/>
<polygon points="495.6,35.9 497.2,37.5 495.6,39.1 494,37.5" fill="#f2c4b4"/>
<polyline points="459.6,38.8 468.6,38 477.6,38 486.6,38 495.6,38.2" fill="none" stroke="#eaa898" stroke-width="1"/>
<polygon points="459.6,37.2 461.2,38.8 459.6,40.4 458,38.8" fill="#eaa898"/>
<polygon points="468.6,36.4 470.2,38 468.6,39.6 467,38" fill="#eaa898"/>
<polygon points="477.6,36.4 479.2,38 477.6,39.6 476,38" fill="#eaa898"/>
<polygon points="486.6,36.4 488.2,38 486.6,39.6 485,38" fill="#eaa898"/>
<polygon points="495.6,36.6 497.2,38.2 495.6,39.8 494,38.2" fill="#eaa898"/>
<polyline points="459.6,38.8 468.6,38.2 477.6,38.5 486.6,38.8 495.6,39" fill="none" stroke="#dc8a7c" stroke-width="1"/>
<polygon points="459.6,37 457.8,40 461.4,40" fill="#dc8a7c"/>
<polygon points="468.6,36.4 466.8,39.4 470.4,39.4" fill="#dc8a7c"/>
<polygon points="477.6,36.7 475.8,39.7 479.4,39.7" fill="#dc8a7c"/>
<polygon points="486.6,37 484.8,40 488.4,40" fill="#dc8a7c"/>
<polygon points="495.6,37.2 493.8,40.2 497.4,40.2" fill="#dc8a7c"/>
<polyline points="459.6,38.8 468.6,38.6 477.6,39 486.6,40 495.6,40.4" fill="none" stroke="#cc6258" stroke-width="1"/>
<circle cx="459.6" cy="38.8" r="1.45" fill="#cc6258"/>
<circle cx="468.6" cy="38.6" r="1.45" fill="#cc6258"/>
<circle cx="477.6" cy="39" r="1.45" fill="#cc6258"/>
<circle cx="486.6" cy="40" r="1.45" fill="#cc6258"/>
<circle cx="495.6" cy="40.4" r="1.45" fill="#cc6258"/>
<polyline points="459.6,38.8 468.6,39 477.6,39.5 486.6,40.4 495.6,40.6" fill="none" stroke="#bc3a40" stroke-width="1"/>
<circle cx="459.6" cy="38.8" r="1.45" fill="#bc3a40"/>
<circle cx="468.6" cy="39" r="1.45" fill="#bc3a40"/>
<circle cx="477.6" cy="39.5" r="1.45" fill="#bc3a40"/>
<circle cx="486.6" cy="40.4" r="1.45" fill="#bc3a40"/>
<circle cx="495.6" cy="40.6" r="1.45" fill="#bc3a40"/>
<polyline points="459.6,38.8 468.6,39.2 477.6,43.6 486.6,46.9 495.6,48.4" fill="none" stroke="#ac1034" stroke-width="1"/>
<polygon points="459.6,37 457.8,40 461.4,40" fill="#ac1034"/>
<polygon points="468.6,37.4 466.8,40.4 470.4,40.4" fill="#ac1034"/>
<polygon points="477.6,41.8 475.8,44.8 479.4,44.8" fill="#ac1034"/>
<polygon points="486.6,45.1 484.8,48.1 488.4,48.1" fill="#ac1034"/>
<polygon points="495.6,46.6 493.8,49.6 497.4,49.6" fill="#ac1034"/>
<rect x="301.7" y="121.8" width="45" height="60.5" fill="none" stroke="#111" stroke-width="1.2"/>
<line x1="301.7" y1="182.3" x2="301.7" y2="185.7" stroke="#111" stroke-width="1"/>
<line x1="310.7" y1="182.3" x2="310.7" y2="185.7" stroke="#111" stroke-width="1"/>
<line x1="319.7" y1="182.3" x2="319.7" y2="185.7" stroke="#111" stroke-width="1"/>
<line x1="328.7" y1="182.3" x2="328.7" y2="185.7" stroke="#111" stroke-width="1"/>
<line x1="337.7" y1="182.3" x2="337.7" y2="185.7" stroke="#111" stroke-width="1"/>
<line x1="346.7" y1="182.3" x2="346.7" y2="185.7" stroke="#111" stroke-width="1"/>
<text x="306.2" y="194.6" font-size="6.8" text-anchor="middle" fill="#222" stroke="#222" stroke-width="0.22">0</text>
<text x="315.2" y="194.6" font-size="6.8" text-anchor="middle" fill="#222" stroke="#222" stroke-width="0.22">1</text>
<text x="324.2" y="194.6" font-size="6.8" text-anchor="middle" fill="#222" stroke="#222" stroke-width="0.22">2</text>
<text x="333.2" y="194.6" font-size="6.8" text-anchor="middle" fill="#222" stroke="#222" stroke-width="0.22">3</text>
<text x="342.2" y="194.6" font-size="6.8" text-anchor="middle" fill="#222" stroke="#222" stroke-width="0.22">4</text>
<text x="324.2" y="117.3" font-size="6.9" text-anchor="middle" fill="#2a2a2a" textLength="16.6" lengthAdjust="spacingAndGlyphs" stroke="#2a2a2a" stroke-width="0.1">SLB-1</text>
<text x="298.8" y="123.7" font-size="6.5" text-anchor="end" fill="#333" stroke="#333" stroke-width="0.1">100%</text>
<text x="298.8" y="143.7" font-size="6.5" text-anchor="end" fill="#333" stroke="#333" stroke-width="0.1">10%</text>
<text x="298.8" y="163.7" font-size="6.5" text-anchor="end" fill="#333" stroke="#333" stroke-width="0.1">1%</text>
<text x="298.8" y="184.2" font-size="6.5" text-anchor="end" fill="#333" stroke="#333" stroke-width="0.1">0%</text>
<polyline points="306.2,127.8 315.2,127.8 324.2,127.8 333.2,127.8 342.2,127.8" fill="none" stroke="#f2c4b4" stroke-width="1"/>
<polygon points="306.2,126.2 307.8,127.8 306.2,129.4 304.6,127.8" fill="#f2c4b4"/>
<polygon points="315.2,126.2 316.8,127.8 315.2,129.4 313.6,127.8" fill="#f2c4b4"/>
<polygon points="324.2,126.2 325.8,127.8 324.2,129.4 322.6,127.8" fill="#f2c4b4"/>
<polygon points="333.2,126.2 334.8,127.8 333.2,129.4 331.6,127.8" fill="#f2c4b4"/>
<polygon points="342.2,126.2 343.8,127.8 342.2,129.4 340.6,127.8" fill="#f2c4b4"/>
<polyline points="306.2,127.8 315.2,128.3 324.2,128.3 333.2,128.3 342.2,128.3" fill="none" stroke="#eaa898" stroke-width="1"/>
<polygon points="306.2,126.2 307.8,127.8 306.2,129.4 304.6,127.8" fill="#eaa898"/>
<polygon points="315.2,126.7 316.8,128.3 315.2,129.9 313.6,128.3" fill="#eaa898"/>
<polygon points="324.2,126.7 325.8,128.3 324.2,129.9 322.6,128.3" fill="#eaa898"/>
<polygon points="333.2,126.7 334.8,128.3 333.2,129.9 331.6,128.3" fill="#eaa898"/>
<polygon points="342.2,126.7 343.8,128.3 342.2,129.9 340.6,128.3" fill="#eaa898"/>
<polyline points="306.2,127.8 315.2,131.4 324.2,135.8 333.2,137.6 342.2,135.8" fill="none" stroke="#dc8a7c" stroke-width="1"/>
<polygon points="306.2,126 304.4,129 308,129" fill="#dc8a7c"/>
<polygon points="315.2,129.6 313.4,132.6 317,132.6" fill="#dc8a7c"/>
<polygon points="324.2,134 322.4,137 326,137" fill="#dc8a7c"/>
<polygon points="333.2,135.8 331.4,138.8 335,138.8" fill="#dc8a7c"/>
<polygon points="342.2,134 340.4,137 344,137" fill="#dc8a7c"/>
<polyline points="306.2,127.8 315.2,135.8 324.2,143.8 333.2,147.9 342.2,146.9" fill="none" stroke="#cc6258" stroke-width="1"/>
<circle cx="306.2" cy="127.8" r="1.45" fill="#cc6258"/>
<circle cx="315.2" cy="135.8" r="1.45" fill="#cc6258"/>
<circle cx="324.2" cy="143.8" r="1.45" fill="#cc6258"/>
<circle cx="333.2" cy="147.9" r="1.45" fill="#cc6258"/>
<circle cx="342.2" cy="146.9" r="1.45" fill="#cc6258"/>
<polyline points="306.2,127.8 315.2,138.5 324.2,150.9 333.2,158 342.2,160.7" fill="none" stroke="#bc3a40" stroke-width="1"/>
<circle cx="306.2" cy="127.8" r="1.45" fill="#bc3a40"/>
<circle cx="315.2" cy="138.5" r="1.45" fill="#bc3a40"/>
<circle cx="324.2" cy="150.9" r="1.45" fill="#bc3a40"/>
<circle cx="333.2" cy="158" r="1.45" fill="#bc3a40"/>
<circle cx="342.2" cy="160.7" r="1.45" fill="#bc3a40"/>
<polyline points="306.2,127.8 315.2,139.5 324.2,151.5 333.2,158.5 342.2,162.2" fill="none" stroke="#ac1034" stroke-width="1"/>
<polygon points="306.2,126 304.4,129 308,129" fill="#ac1034"/>
<polygon points="315.2,137.7 313.4,140.7 317,140.7" fill="#ac1034"/>
<polygon points="324.2,149.7 322.4,152.7 326,152.7" fill="#ac1034"/>
<polygon points="333.2,156.7 331.4,159.7 335,159.7" fill="#ac1034"/>
<polygon points="342.2,160.4 340.4,163.4 344,163.4" fill="#ac1034"/>
<rect x="352.9" y="121.8" width="45" height="60.5" fill="none" stroke="#111" stroke-width="1.2"/>
<line x1="352.9" y1="182.3" x2="352.9" y2="185.7" stroke="#111" stroke-width="1"/>
<line x1="361.9" y1="182.3" x2="361.9" y2="185.7" stroke="#111" stroke-width="1"/>
<line x1="370.9" y1="182.3" x2="370.9" y2="185.7" stroke="#111" stroke-width="1"/>
<line x1="379.9" y1="182.3" x2="379.9" y2="185.7" stroke="#111" stroke-width="1"/>
<line x1="388.9" y1="182.3" x2="388.9" y2="185.7" stroke="#111" stroke-width="1"/>
<line x1="397.9" y1="182.3" x2="397.9" y2="185.7" stroke="#111" stroke-width="1"/>
<text x="357.4" y="194.6" font-size="6.8" text-anchor="middle" fill="#222" stroke="#222" stroke-width="0.22">0</text>
<text x="366.4" y="194.6" font-size="6.8" text-anchor="middle" fill="#222" stroke="#222" stroke-width="0.22">1</text>
<text x="375.4" y="194.6" font-size="6.8" text-anchor="middle" fill="#222" stroke="#222" stroke-width="0.22">2</text>
<text x="384.4" y="194.6" font-size="6.8" text-anchor="middle" fill="#222" stroke="#222" stroke-width="0.22">3</text>
<text x="393.4" y="194.6" font-size="6.8" text-anchor="middle" fill="#222" stroke="#222" stroke-width="0.22">4</text>
<text x="375.4" y="117.3" font-size="6.9" text-anchor="middle" fill="#2a2a2a" textLength="13.5" lengthAdjust="spacingAndGlyphs" stroke="#2a2a2a" stroke-width="0.1">MT-2</text>
<polyline points="357.4,126.9 366.4,126.9 375.4,126.6 384.4,126.6 393.4,126.6" fill="none" stroke="#f2c4b4" stroke-width="1"/>
<polygon points="357.4,125.3 359,126.9 357.4,128.5 355.8,126.9" fill="#f2c4b4"/>
<polygon points="366.4,125.3 368,126.9 366.4,128.5 364.8,126.9" fill="#f2c4b4"/>
<polygon points="375.4,125 377,126.6 375.4,128.2 373.8,126.6" fill="#f2c4b4"/>
<polygon points="384.4,125 386,126.6 384.4,128.2 382.8,126.6" fill="#f2c4b4"/>
<polygon points="393.4,125 395,126.6 393.4,128.2 391.8,126.6" fill="#f2c4b4"/>
<polyline points="357.4,126.9 366.4,127.2 375.4,127 384.4,127 393.4,127.2" fill="none" stroke="#eaa898" stroke-width="1"/>
<polygon points="357.4,125.3 359,126.9 357.4,128.5 355.8,126.9" fill="#eaa898"/>
<polygon points="366.4,125.6 368,127.2 366.4,128.8 364.8,127.2" fill="#eaa898"/>
<polygon points="375.4,125.4 377,127 375.4,128.6 373.8,127" fill="#eaa898"/>
<polygon points="384.4,125.4 386,127 384.4,128.6 382.8,127" fill="#eaa898"/>
<polygon points="393.4,125.6 395,127.2 393.4,128.8 391.8,127.2" fill="#eaa898"/>
<polyline points="357.4,126.9 366.4,127.8 375.4,129 384.4,129 393.4,129" fill="none" stroke="#dc8a7c" stroke-width="1"/>
<polygon points="357.4,125.1 355.6,128.1 359.2,128.1" fill="#dc8a7c"/>
<polygon points="366.4,126 364.6,129 368.2,129" fill="#dc8a7c"/>
<polygon points="375.4,127.2 373.6,130.2 377.2,130.2" fill="#dc8a7c"/>
<polygon points="384.4,127.2 382.6,130.2 386.2,130.2" fill="#dc8a7c"/>
<polygon points="393.4,127.2 391.6,130.2 395.2,130.2" fill="#dc8a7c"/>
<polyline points="357.4,126.9 366.4,128 375.4,131.4 384.4,130.5 393.4,131.4" fill="none" stroke="#cc6258" stroke-width="1"/>
<circle cx="357.4" cy="126.9" r="1.45" fill="#cc6258"/>
<circle cx="366.4" cy="128" r="1.45" fill="#cc6258"/>
<circle cx="375.4" cy="131.4" r="1.45" fill="#cc6258"/>
<circle cx="384.4" cy="130.5" r="1.45" fill="#cc6258"/>
<circle cx="393.4" cy="131.4" r="1.45" fill="#cc6258"/>
<polyline points="357.4,126.9 366.4,129.6 375.4,134 384.4,135.8 393.4,136.2" fill="none" stroke="#bc3a40" stroke-width="1"/>
<circle cx="357.4" cy="126.9" r="1.45" fill="#bc3a40"/>
<circle cx="366.4" cy="129.6" r="1.45" fill="#bc3a40"/>
<circle cx="375.4" cy="134" r="1.45" fill="#bc3a40"/>
<circle cx="384.4" cy="135.8" r="1.45" fill="#bc3a40"/>
<circle cx="393.4" cy="136.2" r="1.45" fill="#bc3a40"/>
<polyline points="357.4,126.9 366.4,130.8 375.4,134.9 384.4,138.1 393.4,139.7" fill="none" stroke="#ac1034" stroke-width="1"/>
<polygon points="357.4,125.1 355.6,128.1 359.2,128.1" fill="#ac1034"/>
<polygon points="366.4,129 364.6,132 368.2,132" fill="#ac1034"/>
<polygon points="375.4,133.1 373.6,136.1 377.2,136.1" fill="#ac1034"/>
<polygon points="384.4,136.3 382.6,139.3 386.2,139.3" fill="#ac1034"/>
<polygon points="393.4,137.9 391.6,140.9 395.2,140.9" fill="#ac1034"/>
<rect x="403.9" y="121.8" width="45" height="60.5" fill="none" stroke="#111" stroke-width="1.2"/>
<line x1="403.9" y1="182.3" x2="403.9" y2="185.7" stroke="#111" stroke-width="1"/>
<line x1="412.9" y1="182.3" x2="412.9" y2="185.7" stroke="#111" stroke-width="1"/>
<line x1="421.9" y1="182.3" x2="421.9" y2="185.7" stroke="#111" stroke-width="1"/>
<line x1="430.9" y1="182.3" x2="430.9" y2="185.7" stroke="#111" stroke-width="1"/>
<line x1="439.9" y1="182.3" x2="439.9" y2="185.7" stroke="#111" stroke-width="1"/>
<line x1="448.9" y1="182.3" x2="448.9" y2="185.7" stroke="#111" stroke-width="1"/>
<text x="408.4" y="194.6" font-size="6.8" text-anchor="middle" fill="#222" stroke="#222" stroke-width="0.22">0</text>
<text x="417.4" y="194.6" font-size="6.8" text-anchor="middle" fill="#222" stroke="#222" stroke-width="0.22">1</text>
<text x="426.4" y="194.6" font-size="6.8" text-anchor="middle" fill="#222" stroke="#222" stroke-width="0.22">2</text>
<text x="435.4" y="194.6" font-size="6.8" text-anchor="middle" fill="#222" stroke="#222" stroke-width="0.22">3</text>
<text x="444.4" y="194.6" font-size="6.8" text-anchor="middle" fill="#222" stroke="#222" stroke-width="0.22">4</text>
<text x="426.4" y="117.3" font-size="6.9" text-anchor="middle" fill="#2a2a2a" textLength="13.1" lengthAdjust="spacingAndGlyphs" stroke="#2a2a2a" stroke-width="0.1">MT-4</text>
<polyline points="408.4,127.9 417.4,127.4 426.4,127.4 435.4,127.4 444.4,127.9" fill="none" stroke="#f2c4b4" stroke-width="1"/>
<polygon points="408.4,126.3 410,127.9 408.4,129.5 406.8,127.9" fill="#f2c4b4"/>
<polygon points="417.4,125.8 419,127.4 417.4,129 415.8,127.4" fill="#f2c4b4"/>
<polygon points="426.4,125.8 428,127.4 426.4,129 424.8,127.4" fill="#f2c4b4"/>
<polygon points="435.4,125.8 437,127.4 435.4,129 433.8,127.4" fill="#f2c4b4"/>
<polygon points="444.4,126.3 446,127.9 444.4,129.5 442.8,127.9" fill="#f2c4b4"/>
<polyline points="408.4,127.9 417.4,127.9 426.4,128.3 435.4,128.3 444.4,128.5" fill="none" stroke="#eaa898" stroke-width="1"/>
<polygon points="408.4,126.3 410,127.9 408.4,129.5 406.8,127.9" fill="#eaa898"/>
<polygon points="417.4,126.3 419,127.9 417.4,129.5 415.8,127.9" fill="#eaa898"/>
<polygon points="426.4,126.7 428,128.3 426.4,129.9 424.8,128.3" fill="#eaa898"/>
<polygon points="435.4,126.7 437,128.3 435.4,129.9 433.8,128.3" fill="#eaa898"/>
<polygon points="444.4,126.9 446,128.5 444.4,130.1 442.8,128.5" fill="#eaa898"/>
<polyline points="408.4,127.9 417.4,129.2 426.4,131.2 435.4,130.4 444.4,130.4" fill="none" stroke="#dc8a7c" stroke-width="1"/>
<polygon points="408.4,126.1 406.6,129.1 410.2,129.1" fill="#dc8a7c"/>
<polygon points="417.4,127.4 415.6,130.4 419.2,130.4" fill="#dc8a7c"/>
<polygon points="426.4,129.4 424.6,132.4 428.2,132.4" fill="#dc8a7c"/>
<polygon points="435.4,128.6 433.6,131.6 437.2,131.6" fill="#dc8a7c"/>
<polygon points="444.4,128.6 442.6,131.6 446.2,131.6" fill="#dc8a7c"/>
<polyline points="408.4,127.9 417.4,130.4 426.4,137.5 435.4,139.3 444.4,142.4" fill="none" stroke="#cc6258" stroke-width="1"/>
<circle cx="408.4" cy="127.9" r="1.45" fill="#cc6258"/>
<circle cx="417.4" cy="130.4" r="1.45" fill="#cc6258"/>
<circle cx="426.4" cy="137.5" r="1.45" fill="#cc6258"/>
<circle cx="435.4" cy="139.3" r="1.45" fill="#cc6258"/>
<circle cx="444.4" cy="142.4" r="1.45" fill="#cc6258"/>
<polyline points="408.4,127.9 417.4,134.2 426.4,143.9 435.4,145.2 444.4,148.2" fill="none" stroke="#bc3a40" stroke-width="1"/>
<circle cx="408.4" cy="127.9" r="1.45" fill="#bc3a40"/>
<circle cx="417.4" cy="134.2" r="1.45" fill="#bc3a40"/>
<circle cx="426.4" cy="143.9" r="1.45" fill="#bc3a40"/>
<circle cx="435.4" cy="145.2" r="1.45" fill="#bc3a40"/>
<circle cx="444.4" cy="148.2" r="1.45" fill="#bc3a40"/>
<polyline points="408.4,127.9 417.4,134.2 426.4,144.2 435.4,145.5 444.4,148.5" fill="none" stroke="#ac1034" stroke-width="1"/>
<polygon points="408.4,126.1 406.6,129.1 410.2,129.1" fill="#ac1034"/>
<polygon points="417.4,132.4 415.6,135.4 419.2,135.4" fill="#ac1034"/>
<polygon points="426.4,142.4 424.6,145.4 428.2,145.4" fill="#ac1034"/>
<polygon points="435.4,143.7 433.6,146.7 437.2,146.7" fill="#ac1034"/>
<polygon points="444.4,146.7 442.6,149.7 446.2,149.7" fill="#ac1034"/>
<rect x="455.1" y="121.8" width="45" height="60.5" fill="none" stroke="#111" stroke-width="1.2"/>
<line x1="455.1" y1="182.3" x2="455.1" y2="185.7" stroke="#111" stroke-width="1"/>
<line x1="464.1" y1="182.3" x2="464.1" y2="185.7" stroke="#111" stroke-width="1"/>
<line x1="473.1" y1="182.3" x2="473.1" y2="185.7" stroke="#111" stroke-width="1"/>
<line x1="482.1" y1="182.3" x2="482.1" y2="185.7" stroke="#111" stroke-width="1"/>
<line x1="491.1" y1="182.3" x2="491.1" y2="185.7" stroke="#111" stroke-width="1"/>
<line x1="500.1" y1="182.3" x2="500.1" y2="185.7" stroke="#111" stroke-width="1"/>
<text x="459.6" y="194.6" font-size="6.8" text-anchor="middle" fill="#222" stroke="#222" stroke-width="0.22">0</text>
<text x="468.6" y="194.6" font-size="6.8" text-anchor="middle" fill="#222" stroke="#222" stroke-width="0.22">1</text>
<text x="477.6" y="194.6" font-size="6.8" text-anchor="middle" fill="#222" stroke="#222" stroke-width="0.22">2</text>
<text x="486.6" y="194.6" font-size="6.8" text-anchor="middle" fill="#222" stroke="#222" stroke-width="0.22">3</text>
<text x="495.6" y="194.6" font-size="6.8" text-anchor="middle" fill="#222" stroke="#222" stroke-width="0.22">4</text>
<text x="477.6" y="117.3" font-size="6.9" text-anchor="middle" fill="#2a2a2a" textLength="19.8" lengthAdjust="spacingAndGlyphs" stroke="#2a2a2a" stroke-width="0.1">C8166</text>
<polyline points="459.6,128.4 468.6,127.7 477.6,127.7 486.6,127.7 495.6,127.7" fill="none" stroke="#f2c4b4" stroke-width="1"/>
<polygon points="459.6,126.8 461.2,128.4 459.6,130 458,128.4" fill="#f2c4b4"/>
<polygon points="468.6,126.1 470.2,127.7 468.6,129.3 467,127.7" fill="#f2c4b4"/>
<polygon points="477.6,126.1 479.2,127.7 477.6,129.3 476,127.7" fill="#f2c4b4"/>
<polygon points="486.6,126.1 488.2,127.7 486.6,129.3 485,127.7" fill="#f2c4b4"/>
<polygon points="495.6,126.1 497.2,127.7 495.6,129.3 494,127.7" fill="#f2c4b4"/>
<polyline points="459.6,128.4 468.6,128 477.6,128.2 486.6,128.4 495.6,128.6" fill="none" stroke="#eaa898" stroke-width="1"/>
<polygon points="459.6,126.8 461.2,128.4 459.6,130 458,128.4" fill="#eaa898"/>
<polygon points="468.6,126.4 470.2,128 468.6,129.6 467,128" fill="#eaa898"/>
<polygon points="477.6,126.6 479.2,128.2 477.6,129.8 476,128.2" fill="#eaa898"/>
<polygon points="486.6,126.8 488.2,128.4 486.6,130 485,128.4" fill="#eaa898"/>
<polygon points="495.6,127 497.2,128.6 495.6,130.2 494,128.6" fill="#eaa898"/>
<polyline points="459.6,128.4 468.6,128.2 477.6,128.6 486.6,129 495.6,129.8" fill="none" stroke="#dc8a7c" stroke-width="1"/>
<polygon points="459.6,126.6 457.8,129.6 461.4,129.6" fill="#dc8a7c"/>
<polygon points="468.6,126.4 466.8,129.4 470.4,129.4" fill="#dc8a7c"/>
<polygon points="477.6,126.8 475.8,129.8 479.4,129.8" fill="#dc8a7c"/>
<polygon points="486.6,127.2 484.8,130.2 488.4,130.2" fill="#dc8a7c"/>
<polygon points="495.6,128 493.8,131 497.4,131" fill="#dc8a7c"/>
<polyline points="459.6,128.4 468.6,140.7 477.6,145.2 486.6,149.3 495.6,151.4" fill="none" stroke="#cc6258" stroke-width="1"/>
<circle cx="459.6" cy="128.4" r="1.45" fill="#cc6258"/>
<circle cx="468.6" cy="140.7" r="1.45" fill="#cc6258"/>
<circle cx="477.6" cy="145.2" r="1.45" fill="#cc6258"/>
<circle cx="486.6" cy="149.3" r="1.45" fill="#cc6258"/>
<circle cx="495.6" cy="151.4" r="1.45" fill="#cc6258"/>
<polyline points="459.6,128.4 468.6,140.7 477.6,145.2 486.6,149.3 495.6,151.4" fill="none" stroke="#bc3a40" stroke-width="1"/>
<circle cx="459.6" cy="128.4" r="1.45" fill="#bc3a40"/>
<circle cx="468.6" cy="140.7" r="1.45" fill="#bc3a40"/>
<circle cx="477.6" cy="145.2" r="1.45" fill="#bc3a40"/>
<circle cx="486.6" cy="149.3" r="1.45" fill="#bc3a40"/>
<circle cx="495.6" cy="151.4" r="1.45" fill="#bc3a40"/>
<polyline points="459.6,128.4 468.6,151.9 477.6,158.8 486.6,164.4 495.6,169.2" fill="none" stroke="#ac1034" stroke-width="1"/>
<polygon points="459.6,126.6 457.8,129.6 461.4,129.6" fill="#ac1034"/>
<polygon points="468.6,150.1 466.8,153.1 470.4,153.1" fill="#ac1034"/>
<polygon points="477.6,157 475.8,160 479.4,160" fill="#ac1034"/>
<polygon points="486.6,162.6 484.8,165.6 488.4,165.6" fill="#ac1034"/>
<polygon points="495.6,167.4 493.8,170.4 497.4,170.4" fill="#ac1034"/>
<rect x="301.7" y="211.8" width="45" height="60.05" fill="none" stroke="#111" stroke-width="1.2"/>
<line x1="301.7" y1="271.85" x2="301.7" y2="275.25" stroke="#111" stroke-width="1"/>
<line x1="310.7" y1="271.85" x2="310.7" y2="275.25" stroke="#111" stroke-width="1"/>
<line x1="319.7" y1="271.85" x2="319.7" y2="275.25" stroke="#111" stroke-width="1"/>
<line x1="328.7" y1="271.85" x2="328.7" y2="275.25" stroke="#111" stroke-width="1"/>
<line x1="337.7" y1="271.85" x2="337.7" y2="275.25" stroke="#111" stroke-width="1"/>
<line x1="346.7" y1="271.85" x2="346.7" y2="275.25" stroke="#111" stroke-width="1"/>
<text x="306.2" y="284.15" font-size="6.8" text-anchor="middle" fill="#222" stroke="#222" stroke-width="0.22">0</text>
<text x="315.2" y="284.15" font-size="6.8" text-anchor="middle" fill="#222" stroke="#222" stroke-width="0.22">1</text>
<text x="324.2" y="284.15" font-size="6.8" text-anchor="middle" fill="#222" stroke="#222" stroke-width="0.22">2</text>
<text x="333.2" y="284.15" font-size="6.8" text-anchor="middle" fill="#222" stroke="#222" stroke-width="0.22">3</text>
<text x="342.2" y="284.15" font-size="6.8" text-anchor="middle" fill="#222" stroke="#222" stroke-width="0.22">4</text>
<text x="324.2" y="207.3" font-size="6.9" text-anchor="middle" fill="#2a2a2a" textLength="12.2" lengthAdjust="spacingAndGlyphs" stroke="#2a2a2a" stroke-width="0.1">KK1</text>
<text x="298.8" y="213.7" font-size="6.5" text-anchor="end" fill="#333" stroke="#333" stroke-width="0.1">100%</text>
<text x="298.8" y="233.7" font-size="6.5" text-anchor="end" fill="#333" stroke="#333" stroke-width="0.1">10%</text>
<text x="298.8" y="253.7" font-size="6.5" text-anchor="end" fill="#333" stroke="#333" stroke-width="0.1">1%</text>
<text x="298.8" y="273.75" font-size="6.5" text-anchor="end" fill="#333" stroke="#333" stroke-width="0.1">0%</text>
<polyline points="306.2,216.8 315.2,216.8 324.2,216.3 333.2,216.8 342.2,217" fill="none" stroke="#f2c4b4" stroke-width="1"/>
<polygon points="306.2,215.2 307.8,216.8 306.2,218.4 304.6,216.8" fill="#f2c4b4"/>
<polygon points="315.2,215.2 316.8,216.8 315.2,218.4 313.6,216.8" fill="#f2c4b4"/>
<polygon points="324.2,214.7 325.8,216.3 324.2,217.9 322.6,216.3" fill="#f2c4b4"/>
<polygon points="333.2,215.2 334.8,216.8 333.2,218.4 331.6,216.8" fill="#f2c4b4"/>
<polygon points="342.2,215.4 343.8,217 342.2,218.6 340.6,217" fill="#f2c4b4"/>
<polyline points="306.2,216.8 315.2,217 324.2,216.8 333.2,217.2 342.2,217.7" fill="none" stroke="#eaa898" stroke-width="1"/>
<polygon points="306.2,215.2 307.8,216.8 306.2,218.4 304.6,216.8" fill="#eaa898"/>
<polygon points="315.2,215.4 316.8,217 315.2,218.6 313.6,217" fill="#eaa898"/>
<polygon points="324.2,215.2 325.8,216.8 324.2,218.4 322.6,216.8" fill="#eaa898"/>
<polygon points="333.2,215.6 334.8,217.2 333.2,218.8 331.6,217.2" fill="#eaa898"/>
<polygon points="342.2,216.1 343.8,217.7 342.2,219.3 340.6,217.7" fill="#eaa898"/>
<polyline points="306.2,216.8 315.2,217.5 324.2,219.5 333.2,222.1 342.2,229.3" fill="none" stroke="#dc8a7c" stroke-width="1"/>
<polygon points="306.2,215 304.4,218 308,218" fill="#dc8a7c"/>
<polygon points="315.2,215.7 313.4,218.7 317,218.7" fill="#dc8a7c"/>
<polygon points="324.2,217.7 322.4,220.7 326,220.7" fill="#dc8a7c"/>
<polygon points="333.2,220.3 331.4,223.3 335,223.3" fill="#dc8a7c"/>
<polygon points="342.2,227.5 340.4,230.5 344,230.5" fill="#dc8a7c"/>
<polyline points="306.2,216.8 315.2,218.6 324.2,224.3 333.2,229.3 342.2,229.3" fill="none" stroke="#cc6258" stroke-width="1"/>
<circle cx="306.2" cy="216.8" r="1.45" fill="#cc6258"/>
<circle cx="315.2" cy="218.6" r="1.45" fill="#cc6258"/>
<circle cx="324.2" cy="224.3" r="1.45" fill="#cc6258"/>
<circle cx="333.2" cy="229.3" r="1.45" fill="#cc6258"/>
<circle cx="342.2" cy="229.3" r="1.45" fill="#cc6258"/>
<polyline points="306.2,216.8 315.2,218.8 324.2,224.5 333.2,229.5 342.2,229.5" fill="none" stroke="#bc3a40" stroke-width="1"/>
<circle cx="306.2" cy="216.8" r="1.45" fill="#bc3a40"/>
<circle cx="315.2" cy="218.8" r="1.45" fill="#bc3a40"/>
<circle cx="324.2" cy="224.5" r="1.45" fill="#bc3a40"/>
<circle cx="333.2" cy="229.5" r="1.45" fill="#bc3a40"/>
<circle cx="342.2" cy="229.5" r="1.45" fill="#bc3a40"/>
<polyline points="306.2,216.8 315.2,223.4 324.2,230.2 333.2,235 342.2,236.4" fill="none" stroke="#ac1034" stroke-width="1"/>
<polygon points="306.2,215 304.4,218 308,218" fill="#ac1034"/>
<polygon points="315.2,221.6 313.4,224.6 317,224.6" fill="#ac1034"/>
<polygon points="324.2,228.4 322.4,231.4 326,231.4" fill="#ac1034"/>
<polygon points="333.2,233.2 331.4,236.2 335,236.2" fill="#ac1034"/>
<polygon points="342.2,234.6 340.4,237.6 344,237.6" fill="#ac1034"/>
<rect x="352.9" y="211.8" width="45" height="60.05" fill="none" stroke="#111" stroke-width="1.2"/>
<line x1="352.9" y1="271.85" x2="352.9" y2="275.25" stroke="#111" stroke-width="1"/>
<line x1="361.9" y1="271.85" x2="361.9" y2="275.25" stroke="#111" stroke-width="1"/>
<line x1="370.9" y1="271.85" x2="370.9" y2="275.25" stroke="#111" stroke-width="1"/>
<line x1="379.9" y1="271.85" x2="379.9" y2="275.25" stroke="#111" stroke-width="1"/>
<line x1="388.9" y1="271.85" x2="388.9" y2="275.25" stroke="#111" stroke-width="1"/>
<line x1="397.9" y1="271.85" x2="397.9" y2="275.25" stroke="#111" stroke-width="1"/>
<text x="357.4" y="284.15" font-size="6.8" text-anchor="middle" fill="#222" stroke="#222" stroke-width="0.22">0</text>
<text x="366.4" y="284.15" font-size="6.8" text-anchor="middle" fill="#222" stroke="#222" stroke-width="0.22">1</text>
<text x="375.4" y="284.15" font-size="6.8" text-anchor="middle" fill="#222" stroke="#222" stroke-width="0.22">2</text>
<text x="384.4" y="284.15" font-size="6.8" text-anchor="middle" fill="#222" stroke="#222" stroke-width="0.22">3</text>
<text x="393.4" y="284.15" font-size="6.8" text-anchor="middle" fill="#222" stroke="#222" stroke-width="0.22">4</text>
<text x="375.4" y="207.3" font-size="6.9" text-anchor="middle" fill="#2a2a2a" textLength="8.9" lengthAdjust="spacingAndGlyphs" stroke="#2a2a2a" stroke-width="0.1">ED</text>
<polyline points="357.4,216.8 366.4,216.8 375.4,216.8 384.4,215.9 393.4,217.3" fill="none" stroke="#f2c4b4" stroke-width="1"/>
<polygon points="357.4,215.2 359,216.8 357.4,218.4 355.8,216.8" fill="#f2c4b4"/>
<polygon points="366.4,215.2 368,216.8 366.4,218.4 364.8,216.8" fill="#f2c4b4"/>
<polygon points="375.4,215.2 377,216.8 375.4,218.4 373.8,216.8" fill="#f2c4b4"/>
<polygon points="384.4,214.3 386,215.9 384.4,217.5 382.8,215.9" fill="#f2c4b4"/>
<polygon points="393.4,215.7 395,217.3 393.4,218.9 391.8,217.3" fill="#f2c4b4"/>
<polyline points="357.4,216.8 366.4,217 375.4,217 384.4,216.2 393.4,217.8" fill="none" stroke="#eaa898" stroke-width="1"/>
<polygon points="357.4,215.2 359,216.8 357.4,218.4 355.8,216.8" fill="#eaa898"/>
<polygon points="366.4,215.4 368,217 366.4,218.6 364.8,217" fill="#eaa898"/>
<polygon points="375.4,215.4 377,217 375.4,218.6 373.8,217" fill="#eaa898"/>
<polygon points="384.4,214.6 386,216.2 384.4,217.8 382.8,216.2" fill="#eaa898"/>
<polygon points="393.4,216.2 395,217.8 393.4,219.4 391.8,217.8" fill="#eaa898"/>
<polyline points="357.4,216.8 366.4,217.3 375.4,217.3 384.4,216.5 393.4,222.1" fill="none" stroke="#dc8a7c" stroke-width="1"/>
<polygon points="357.4,215 355.6,218 359.2,218" fill="#dc8a7c"/>
<polygon points="366.4,215.5 364.6,218.5 368.2,218.5" fill="#dc8a7c"/>
<polygon points="375.4,215.5 373.6,218.5 377.2,218.5" fill="#dc8a7c"/>
<polygon points="384.4,214.7 382.6,217.7 386.2,217.7" fill="#dc8a7c"/>
<polygon points="393.4,220.3 391.6,223.3 395.2,223.3" fill="#dc8a7c"/>
<polyline points="357.4,217.7 366.4,218 375.4,221.2 384.4,223.9 393.4,229.8" fill="none" stroke="#cc6258" stroke-width="1"/>
<circle cx="357.4" cy="217.7" r="1.45" fill="#cc6258"/>
<circle cx="366.4" cy="218" r="1.45" fill="#cc6258"/>
<circle cx="375.4" cy="221.2" r="1.45" fill="#cc6258"/>
<circle cx="384.4" cy="223.9" r="1.45" fill="#cc6258"/>
<circle cx="393.4" cy="229.8" r="1.45" fill="#cc6258"/>
<polyline points="357.4,217.7 366.4,218.2 375.4,221.4 384.4,224.1 393.4,230" fill="none" stroke="#bc3a40" stroke-width="1"/>
<circle cx="357.4" cy="217.7" r="1.45" fill="#bc3a40"/>
<circle cx="366.4" cy="218.2" r="1.45" fill="#bc3a40"/>
<circle cx="375.4" cy="221.4" r="1.45" fill="#bc3a40"/>
<circle cx="384.4" cy="224.1" r="1.45" fill="#bc3a40"/>
<circle cx="393.4" cy="230" r="1.45" fill="#bc3a40"/>
<polyline points="357.4,217.7 366.4,220.4 375.4,227.5 384.4,230.2 393.4,233.7" fill="none" stroke="#ac1034" stroke-width="1"/>
<polygon points="357.4,215.9 355.6,218.9 359.2,218.9" fill="#ac1034"/>
<polygon points="366.4,218.6 364.6,221.6 368.2,221.6" fill="#ac1034"/>
<polygon points="375.4,225.7 373.6,228.7 377.2,228.7" fill="#ac1034"/>
<polygon points="384.4,228.4 382.6,231.4 386.2,231.4" fill="#ac1034"/>
<polygon points="393.4,231.9 391.6,234.9 395.2,234.9" fill="#ac1034"/>
<rect x="403.9" y="211.8" width="45" height="60.05" fill="none" stroke="#111" stroke-width="1.2"/>
<line x1="403.9" y1="271.85" x2="403.9" y2="275.25" stroke="#111" stroke-width="1"/>
<line x1="412.9" y1="271.85" x2="412.9" y2="275.25" stroke="#111" stroke-width="1"/>
<line x1="421.9" y1="271.85" x2="421.9" y2="275.25" stroke="#111" stroke-width="1"/>
<line x1="430.9" y1="271.85" x2="430.9" y2="275.25" stroke="#111" stroke-width="1"/>
<line x1="439.9" y1="271.85" x2="439.9" y2="275.25" stroke="#111" stroke-width="1"/>
<line x1="448.9" y1="271.85" x2="448.9" y2="275.25" stroke="#111" stroke-width="1"/>
<text x="408.4" y="284.15" font-size="6.8" text-anchor="middle" fill="#222" stroke="#222" stroke-width="0.22">0</text>
<text x="417.4" y="284.15" font-size="6.8" text-anchor="middle" fill="#222" stroke="#222" stroke-width="0.22">1</text>
<text x="426.4" y="284.15" font-size="6.8" text-anchor="middle" fill="#222" stroke="#222" stroke-width="0.22">2</text>
<text x="435.4" y="284.15" font-size="6.8" text-anchor="middle" fill="#222" stroke="#222" stroke-width="0.22">3</text>
<text x="444.4" y="284.15" font-size="6.8" text-anchor="middle" fill="#222" stroke="#222" stroke-width="0.22">4</text>
<text x="426.4" y="207.3" font-size="6.9" text-anchor="middle" fill="#2a2a2a" textLength="19.5" lengthAdjust="spacingAndGlyphs" stroke="#2a2a2a" stroke-width="0.1">OATL4</text>
<polyline points="408.4,217.1 417.4,217.1 426.4,217.1 435.4,217.6 444.4,217.4" fill="none" stroke="#f2c4b4" stroke-width="1"/>
<polygon points="408.4,215.5 410,217.1 408.4,218.7 406.8,217.1" fill="#f2c4b4"/>
<polygon points="417.4,215.5 419,217.1 417.4,218.7 415.8,217.1" fill="#f2c4b4"/>
<polygon points="426.4,215.5 428,217.1 426.4,218.7 424.8,217.1" fill="#f2c4b4"/>
<polygon points="435.4,216 437,217.6 435.4,219.2 433.8,217.6" fill="#f2c4b4"/>
<polygon points="444.4,215.8 446,217.4 444.4,219 442.8,217.4" fill="#f2c4b4"/>
<polyline points="408.4,217.1 417.4,217.1 426.4,217.3 435.4,217.9 444.4,217.6" fill="none" stroke="#eaa898" stroke-width="1"/>
<polygon points="408.4,215.5 410,217.1 408.4,218.7 406.8,217.1" fill="#eaa898"/>
<polygon points="417.4,215.5 419,217.1 417.4,218.7 415.8,217.1" fill="#eaa898"/>
<polygon points="426.4,215.7 428,217.3 426.4,218.9 424.8,217.3" fill="#eaa898"/>
<polygon points="435.4,216.3 437,217.9 435.4,219.5 433.8,217.9" fill="#eaa898"/>
<polygon points="444.4,216 446,217.6 444.4,219.2 442.8,217.6" fill="#eaa898"/>
<polyline points="408.4,217.1 417.4,217.1 426.4,217.5 435.4,218.1 444.4,217.8" fill="none" stroke="#dc8a7c" stroke-width="1"/>
<polygon points="408.4,215.3 406.6,218.3 410.2,218.3" fill="#dc8a7c"/>
<polygon points="417.4,215.3 415.6,218.3 419.2,218.3" fill="#dc8a7c"/>
<polygon points="426.4,215.7 424.6,218.7 428.2,218.7" fill="#dc8a7c"/>
<polygon points="435.4,216.3 433.6,219.3 437.2,219.3" fill="#dc8a7c"/>
<polygon points="444.4,216 442.6,219 446.2,219" fill="#dc8a7c"/>
<polyline points="408.4,217.1 417.4,217.1 426.4,217.8 435.4,218.3 444.4,218" fill="none" stroke="#cc6258" stroke-width="1"/>
<circle cx="408.4" cy="217.1" r="1.45" fill="#cc6258"/>
<circle cx="417.4" cy="217.1" r="1.45" fill="#cc6258"/>
<circle cx="426.4" cy="217.8" r="1.45" fill="#cc6258"/>
<circle cx="435.4" cy="218.3" r="1.45" fill="#cc6258"/>
<circle cx="444.4" cy="218" r="1.45" fill="#cc6258"/>
<polyline points="408.4,217.1 417.4,217.1 426.4,218.5 435.4,218.8 444.4,218.4" fill="none" stroke="#bc3a40" stroke-width="1"/>
<circle cx="408.4" cy="217.1" r="1.45" fill="#bc3a40"/>
<circle cx="417.4" cy="217.1" r="1.45" fill="#bc3a40"/>
<circle cx="426.4" cy="218.5" r="1.45" fill="#bc3a40"/>
<circle cx="435.4" cy="218.8" r="1.45" fill="#bc3a40"/>
<circle cx="444.4" cy="218.4" r="1.45" fill="#bc3a40"/>
<polyline points="408.4,217.4 417.4,217.1 426.4,220.4 435.4,220.4 444.4,219.2" fill="none" stroke="#ac1034" stroke-width="1"/>
<polygon points="408.4,215.6 406.6,218.6 410.2,218.6" fill="#ac1034"/>
<polygon points="417.4,215.3 415.6,218.3 419.2,218.3" fill="#ac1034"/>
<polygon points="426.4,218.6 424.6,221.6 428.2,221.6" fill="#ac1034"/>
<polygon points="435.4,218.6 433.6,221.6 437.2,221.6" fill="#ac1034"/>
<polygon points="444.4,217.4 442.6,220.4 446.2,220.4" fill="#ac1034"/>
<rect x="455.1" y="211.8" width="45" height="60.05" fill="none" stroke="#111" stroke-width="1.2"/>
<line x1="455.1" y1="271.85" x2="455.1" y2="275.25" stroke="#111" stroke-width="1"/>
<line x1="464.1" y1="271.85" x2="464.1" y2="275.25" stroke="#111" stroke-width="1"/>
<line x1="473.1" y1="271.85" x2="473.1" y2="275.25" stroke="#111" stroke-width="1"/>
<line x1="482.1" y1="271.85" x2="482.1" y2="275.25" stroke="#111" stroke-width="1"/>
<line x1="491.1" y1="271.85" x2="491.1" y2="275.25" stroke="#111" stroke-width="1"/>
<line x1="500.1" y1="271.85" x2="500.1" y2="275.25" stroke="#111" stroke-width="1"/>
<text x="459.6" y="284.15" font-size="6.8" text-anchor="middle" fill="#222" stroke="#222" stroke-width="0.22">0</text>
<text x="468.6" y="284.15" font-size="6.8" text-anchor="middle" fill="#222" stroke="#222" stroke-width="0.22">1</text>
<text x="477.6" y="284.15" font-size="6.8" text-anchor="middle" fill="#222" stroke="#222" stroke-width="0.22">2</text>
<text x="486.6" y="284.15" font-size="6.8" text-anchor="middle" fill="#222" stroke="#222" stroke-width="0.22">3</text>
<text x="495.6" y="284.15" font-size="6.8" text-anchor="middle" fill="#222" stroke="#222" stroke-width="0.22">4</text>
<text x="477.6" y="207.3" font-size="6.9" text-anchor="middle" fill="#2a2a2a" textLength="14" lengthAdjust="spacingAndGlyphs" stroke="#2a2a2a" stroke-width="0.1">KOB</text>
<polyline points="459.6,217.4 468.6,216.6 477.6,217.1 486.6,217.1 495.6,216.6" fill="none" stroke="#f2c4b4" stroke-width="1"/>
<polygon points="459.6,215.8 461.2,217.4 459.6,219 458,217.4" fill="#f2c4b4"/>
<polygon points="468.6,215 470.2,216.6 468.6,218.2 467,216.6" fill="#f2c4b4"/>
<polygon points="477.6,215.5 479.2,217.1 477.6,218.7 476,217.1" fill="#f2c4b4"/>
<polygon points="486.6,215.5 488.2,217.1 486.6,218.7 485,217.1" fill="#f2c4b4"/>
<polygon points="495.6,215 497.2,216.6 495.6,218.2 494,216.6" fill="#f2c4b4"/>
<polyline points="459.6,217.4 468.6,216.6 477.6,217.3 486.6,217.3 495.6,217" fill="none" stroke="#eaa898" stroke-width="1"/>
<polygon points="459.6,215.8 461.2,217.4 459.6,219 458,217.4" fill="#eaa898"/>
<polygon points="468.6,215 470.2,216.6 468.6,218.2 467,216.6" fill="#eaa898"/>
<polygon points="477.6,215.7 479.2,217.3 477.6,218.9 476,217.3" fill="#eaa898"/>
<polygon points="486.6,215.7 488.2,217.3 486.6,218.9 485,217.3" fill="#eaa898"/>
<polygon points="495.6,215.4 497.2,217 495.6,218.6 494,217" fill="#eaa898"/>
<polyline points="459.6,217.4 468.6,216.8 477.6,217.5 486.6,217.6 495.6,217.3" fill="none" stroke="#dc8a7c" stroke-width="1"/>
<polygon points="459.6,215.6 457.8,218.6 461.4,218.6" fill="#dc8a7c"/>
<polygon points="468.6,215 466.8,218 470.4,218" fill="#dc8a7c"/>
<polygon points="477.6,215.7 475.8,218.7 479.4,218.7" fill="#dc8a7c"/>
<polygon points="486.6,215.8 484.8,218.8 488.4,218.8" fill="#dc8a7c"/>
<polygon points="495.6,215.5 493.8,218.5 497.4,218.5" fill="#dc8a7c"/>
<polyline points="459.6,217.4 468.6,216.8 477.6,217.7 486.6,217.9 495.6,217.6" fill="none" stroke="#cc6258" stroke-width="1"/>
<circle cx="459.6" cy="217.4" r="1.45" fill="#cc6258"/>
<circle cx="468.6" cy="216.8" r="1.45" fill="#cc6258"/>
<circle cx="477.6" cy="217.7" r="1.45" fill="#cc6258"/>
<circle cx="486.6" cy="217.9" r="1.45" fill="#cc6258"/>
<circle cx="495.6" cy="217.6" r="1.45" fill="#cc6258"/>
<polyline points="459.6,217.4 468.6,216.9 477.6,218.2 486.6,218.5 495.6,218" fill="none" stroke="#bc3a40" stroke-width="1"/>
<circle cx="459.6" cy="217.4" r="1.45" fill="#bc3a40"/>
<circle cx="468.6" cy="216.9" r="1.45" fill="#bc3a40"/>
<circle cx="477.6" cy="218.2" r="1.45" fill="#bc3a40"/>
<circle cx="486.6" cy="218.5" r="1.45" fill="#bc3a40"/>
<circle cx="495.6" cy="218" r="1.45" fill="#bc3a40"/>
<polyline points="459.6,217.4 468.6,217.1 477.6,219.9 486.6,222.5 495.6,222" fill="none" stroke="#ac1034" stroke-width="1"/>
<polygon points="459.6,215.6 457.8,218.6 461.4,218.6" fill="#ac1034"/>
<polygon points="468.6,215.3 466.8,218.3 470.4,218.3" fill="#ac1034"/>
<polygon points="477.6,218.1 475.8,221.1 479.4,221.1" fill="#ac1034"/>
<polygon points="486.6,220.7 484.8,223.7 488.4,223.7" fill="#ac1034"/>
<polygon points="495.6,220.2 493.8,223.2 497.4,223.2" fill="#ac1034"/>
<line x1="273.7" y1="32.7" x2="273.7" y2="116.4" stroke="#111" stroke-width="0.9"/>
<line x1="273.7" y1="193.3" x2="273.7" y2="271.7" stroke="#111" stroke-width="0.9"/>
<text x="277" y="153.4" font-size="8.2" text-anchor="middle" fill="#222" textLength="73.8" lengthAdjust="spacingAndGlyphs" transform="rotate(-90 277 153.4)" stroke="#222" stroke-width="0.1">Relative growth (control=100)</text>
<line x1="503.1" y1="31.8" x2="503.1" y2="92" stroke="#111" stroke-width="1.1"/>
<text x="508.2" y="62.65" font-size="6.3" text-anchor="middle" fill="#222" textLength="44.5" lengthAdjust="spacingAndGlyphs" transform="rotate(90 508.2 62.65)" stroke="#222" stroke-width="0.1">Uninfected cells</text>
<line x1="503.1" y1="121" x2="503.1" y2="181.6" stroke="#111" stroke-width="1.1"/>
<text x="508.2" y="152.05" font-size="6.3" text-anchor="middle" fill="#222" textLength="35.6" lengthAdjust="spacingAndGlyphs" transform="rotate(90 508.2 152.05)" stroke="#222" stroke-width="0.1">Infected cells</text>
<line x1="503.1" y1="211" x2="503.1" y2="271.15" stroke="#111" stroke-width="1.1"/>
<text x="508.2" y="241.83" font-size="6.3" text-anchor="middle" fill="#222" textLength="23" lengthAdjust="spacingAndGlyphs" transform="rotate(90 508.2 241.83)" stroke="#222" stroke-width="0.1">ATL cells</text>
<line x1="305.8" y1="292.9" x2="392.8" y2="292.9" stroke="#111" stroke-width="0.9"/>
<line x1="409.2" y1="292.9" x2="495.8" y2="292.9" stroke="#111" stroke-width="0.9"/>
<text x="401" y="295.6" font-size="8.2" text-anchor="middle" fill="#111" font-weight="bold" textLength="9.9" lengthAdjust="spacingAndGlyphs">Day</text>
<line x1="290.3" y1="304" x2="298.1" y2="304" stroke="#f2c4b4" stroke-width="0.9"/>
<polygon points="294.2,302.4 295.8,304 294.2,305.6 292.6,304" fill="#f2c4b4"/>
<text x="301.2" y="306.2" font-size="6.3" text-anchor="start" fill="#222" textLength="19.8" lengthAdjust="spacingAndGlyphs" stroke="#222" stroke-width="0.1">Control</text>
<line x1="330.1" y1="304" x2="337.9" y2="304" stroke="#eaa898" stroke-width="0.9"/>
<polygon points="334,302.4 335.6,304 334,305.6 332.4,304" fill="#eaa898"/>
<text x="340.5" y="306.2" font-size="6.3" text-anchor="start" fill="#222" textLength="14.5" lengthAdjust="spacingAndGlyphs" stroke="#222" stroke-width="0.1">1 μM</text>
<line x1="364.2" y1="304" x2="372" y2="304" stroke="#dc8a7c" stroke-width="0.9"/>
<polygon points="368.1,302.2 366.3,305.2 369.9,305.2" fill="#dc8a7c"/>
<text x="373.5" y="306.2" font-size="6.3" text-anchor="start" fill="#222" textLength="14.5" lengthAdjust="spacingAndGlyphs" stroke="#222" stroke-width="0.1">5 μM</text>
<line x1="397.7" y1="304" x2="405.5" y2="304" stroke="#cc6258" stroke-width="0.9"/>
<circle cx="401.6" cy="304" r="1.45" fill="#cc6258"/>
<text x="408.7" y="306.2" font-size="6.3" text-anchor="start" fill="#222" textLength="17.3" lengthAdjust="spacingAndGlyphs" stroke="#222" stroke-width="0.1">10 μM</text>
<line x1="434.6" y1="304" x2="442.4" y2="304" stroke="#bc3a40" stroke-width="0.9"/>
<circle cx="438.5" cy="304" r="1.45" fill="#bc3a40"/>
<text x="445.7" y="306.2" font-size="6.3" text-anchor="start" fill="#222" textLength="17.8" lengthAdjust="spacingAndGlyphs" stroke="#222" stroke-width="0.1">25 μM</text>
<line x1="472.7" y1="304" x2="480.5" y2="304" stroke="#ac1034" stroke-width="0.9"/>
<polygon points="476.6,302.2 474.8,305.2 478.4,305.2" fill="#ac1034"/>
<text x="483.5" y="306.2" font-size="6.3" text-anchor="start" fill="#222" textLength="18" lengthAdjust="spacingAndGlyphs" stroke="#222" stroke-width="0.1">50 μM</text>
<rect x="54.4" y="241.04" width="79.12" height="4.9" fill="#2b4c8c" stroke="none" stroke-width="1"/>
<text x="48.5" y="245.79" font-size="7" text-anchor="end" fill="#111" textLength="25.9" lengthAdjust="spacingAndGlyphs" stroke="#111" stroke-width="0.1">PBMC–1</text>
<text x="136.52" y="245.79" font-size="6.8" text-anchor="start" fill="#222" stroke="#222" stroke-width="0.1">57</text>
<rect x="54.4" y="250.41" width="26.37" height="4.9" fill="#2b4c8c" stroke="none" stroke-width="1"/>
<text x="48.5" y="255.16" font-size="7" text-anchor="end" fill="#111" textLength="15.9" lengthAdjust="spacingAndGlyphs" stroke="#111" stroke-width="0.1">Jurkat</text>
<text x="83.77" y="255.16" font-size="6.8" text-anchor="start" fill="#222" stroke="#222" stroke-width="0.1">19</text>
<rect x="54.4" y="259.78" width="54.13" height="4.9" fill="#2b4c8c" stroke="none" stroke-width="1"/>
<text x="48.5" y="264.53" font-size="7" text-anchor="end" fill="#111" textLength="23.2" lengthAdjust="spacingAndGlyphs" stroke="#111" stroke-width="0.1">MOLT–4</text>
<text x="111.53" y="264.53" font-size="6.8" text-anchor="start" fill="#222" stroke="#222" stroke-width="0.1">39</text>
<rect x="54.4" y="278.52" width="11.1" height="4.9" fill="#b5132f" stroke="none" stroke-width="1"/>
<text x="48.5" y="283.27" font-size="7" text-anchor="end" fill="#111" textLength="19.6" lengthAdjust="spacingAndGlyphs" stroke="#111" stroke-width="0.1">SLB–1</text>
<text x="68.3" y="283.27" font-size="6.8" text-anchor="start" fill="#222" stroke="#222" stroke-width="0.1">8</text>
<rect x="54.4" y="287.89" width="18.04" height="4.9" fill="#b5132f" stroke="none" stroke-width="1"/>
<text x="48.5" y="292.64" font-size="7" text-anchor="end" fill="#111" textLength="16.2" lengthAdjust="spacingAndGlyphs" stroke="#111" stroke-width="0.1">MT–2</text>
<text x="75.44" y="292.64" font-size="6.8" text-anchor="start" fill="#222" stroke="#222" stroke-width="0.1">13</text>
<rect x="54.4" y="297.25" width="18.04" height="4.9" fill="#b5132f" stroke="none" stroke-width="1"/>
<text x="48.5" y="302" font-size="7" text-anchor="end" fill="#111" textLength="16.2" lengthAdjust="spacingAndGlyphs" stroke="#111" stroke-width="0.1">MT–4</text>
<text x="75.44" y="302" font-size="6.8" text-anchor="start" fill="#222" stroke="#222" stroke-width="0.1">13</text>
<rect x="54.4" y="306.62" width="20.82" height="4.9" fill="#b5132f" stroke="none" stroke-width="1"/>
<text x="48.5" y="311.38" font-size="7" text-anchor="end" fill="#111" textLength="20.2" lengthAdjust="spacingAndGlyphs" stroke="#111" stroke-width="0.1">C8166</text>
<text x="78.22" y="311.38" font-size="6.8" text-anchor="start" fill="#222" stroke="#222" stroke-width="0.1">15</text>
<rect x="54.4" y="325.37" width="9.72" height="4.9" fill="#2b4c8c" stroke="none" stroke-width="1"/>
<text x="48.5" y="330.12" font-size="7" text-anchor="end" fill="#111" textLength="12.3" lengthAdjust="spacingAndGlyphs" stroke="#111" stroke-width="0.1">KK1</text>
<text x="66.92" y="330.12" font-size="6.8" text-anchor="start" fill="#222" stroke="#222" stroke-width="0.1">7</text>
<rect x="54.4" y="334.74" width="33.31" height="4.9" fill="#2b4c8c" stroke="none" stroke-width="1"/>
<text x="48.5" y="339.49" font-size="7" text-anchor="end" fill="#111" textLength="9" lengthAdjust="spacingAndGlyphs" stroke="#111" stroke-width="0.1">ED</text>
<text x="90.71" y="339.49" font-size="6.8" text-anchor="start" fill="#222" stroke="#222" stroke-width="0.1">24</text>
<rect x="54.4" y="344.11" width="147.13" height="4.9" fill="#2b4c8c" stroke="none" stroke-width="1"/>
<text x="48.5" y="348.86" font-size="7" text-anchor="end" fill="#111" textLength="20.2" lengthAdjust="spacingAndGlyphs" stroke="#111" stroke-width="0.1">OATLA</text>
<text x="204.53" y="348.86" font-size="6.8" text-anchor="start" fill="#222" stroke="#222" stroke-width="0.1">106</text>
<rect x="54.4" y="353.48" width="69.4" height="4.9" fill="#2b4c8c" stroke="none" stroke-width="1"/>
<text x="48.5" y="358.23" font-size="7" text-anchor="end" fill="#111" textLength="14" lengthAdjust="spacingAndGlyphs" stroke="#111" stroke-width="0.1">KOB</text>
<text x="126.8" y="358.23" font-size="6.8" text-anchor="start" fill="#222" stroke="#222" stroke-width="0.1">50</text>
<line x1="54.4" y1="236.6" x2="54.4" y2="361.7" stroke="#111" stroke-width="1.1"/>
<line x1="53.9" y1="361.1" x2="207" y2="361.1" stroke="#111" stroke-width="1.3"/>
<line x1="51.5" y1="238.8" x2="54.4" y2="238.8" stroke="#111" stroke-width="1"/>
<line x1="51.5" y1="248.17" x2="54.4" y2="248.17" stroke="#111" stroke-width="1"/>
<line x1="51.5" y1="257.54" x2="54.4" y2="257.54" stroke="#111" stroke-width="1"/>
<line x1="51.5" y1="266.91" x2="54.4" y2="266.91" stroke="#111" stroke-width="1"/>
<line x1="51.5" y1="276.28" x2="54.4" y2="276.28" stroke="#111" stroke-width="1"/>
<line x1="51.5" y1="285.65" x2="54.4" y2="285.65" stroke="#111" stroke-width="1"/>
<line x1="51.5" y1="295.02" x2="54.4" y2="295.02" stroke="#111" stroke-width="1"/>
<line x1="51.5" y1="304.39" x2="54.4" y2="304.39" stroke="#111" stroke-width="1"/>
<line x1="51.5" y1="313.76" x2="54.4" y2="313.76" stroke="#111" stroke-width="1"/>
<line x1="51.5" y1="323.13" x2="54.4" y2="323.13" stroke="#111" stroke-width="1"/>
<line x1="51.5" y1="332.5" x2="54.4" y2="332.5" stroke="#111" stroke-width="1"/>
<line x1="51.5" y1="341.87" x2="54.4" y2="341.87" stroke="#111" stroke-width="1"/>
<line x1="51.5" y1="351.24" x2="54.4" y2="351.24" stroke="#111" stroke-width="1"/>
<line x1="51.5" y1="360.61" x2="54.4" y2="360.61" stroke="#111" stroke-width="1"/>
<line x1="54.4" y1="361.1" x2="54.4" y2="363.7" stroke="#111" stroke-width="1"/>
<text x="54.4" y="373" font-size="6.8" text-anchor="middle" fill="#222" stroke="#222" stroke-width="0.1">0</text>
<line x1="82.16" y1="361.1" x2="82.16" y2="363.7" stroke="#111" stroke-width="1"/>
<text x="82.16" y="373" font-size="6.8" text-anchor="middle" fill="#222" stroke="#222" stroke-width="0.1">20</text>
<line x1="109.92" y1="361.1" x2="109.92" y2="363.7" stroke="#111" stroke-width="1"/>
<text x="109.92" y="373" font-size="6.8" text-anchor="middle" fill="#222" stroke="#222" stroke-width="0.1">40</text>
<line x1="137.68" y1="361.1" x2="137.68" y2="363.7" stroke="#111" stroke-width="1"/>
<text x="137.68" y="373" font-size="6.8" text-anchor="middle" fill="#222" stroke="#222" stroke-width="0.1">60</text>
<line x1="165.44" y1="361.1" x2="165.44" y2="363.7" stroke="#111" stroke-width="1"/>
<text x="165.44" y="373" font-size="6.8" text-anchor="middle" fill="#222" stroke="#222" stroke-width="0.1">80</text>
<line x1="193.2" y1="361.1" x2="193.2" y2="363.7" stroke="#111" stroke-width="1"/>
<text x="193.2" y="373" font-size="6.8" text-anchor="middle" fill="#222" stroke="#222" stroke-width="0.1">100</text>
<text x="130.4" y="384.3" font-size="8.4" text-anchor="middle" fill="#222" font-weight="bold" textLength="137.2" lengthAdjust="spacingAndGlyphs">Inhibition of cell proliferation by MK-2048 IC50 (μM)</text>
<line x1="18.9" y1="239.1" x2="18.9" y2="267.2" stroke="#555" stroke-width="1.3"/>
<text x="14.3" y="253.15" font-size="8" text-anchor="middle" fill="#222" font-weight="bold" textLength="27.6" lengthAdjust="spacingAndGlyphs" transform="rotate(-90 14.3 253.15)">Uninfected</text>
<line x1="18.9" y1="276.6" x2="18.9" y2="314.6" stroke="#555" stroke-width="1.3"/>
<text x="14.3" y="295.6" font-size="8" text-anchor="middle" fill="#222" font-weight="bold" textLength="21.2" lengthAdjust="spacingAndGlyphs" transform="rotate(-90 14.3 295.6)">Infected</text>
<line x1="18.9" y1="323.4" x2="18.9" y2="361.5" stroke="#555" stroke-width="1.3"/>
<text x="14.3" y="342.45" font-size="7.8" text-anchor="middle" fill="#222" font-weight="bold" textLength="9.6" lengthAdjust="spacingAndGlyphs" transform="rotate(-90 14.3 342.45)">ATL</text>
</svg>
</body></html>
